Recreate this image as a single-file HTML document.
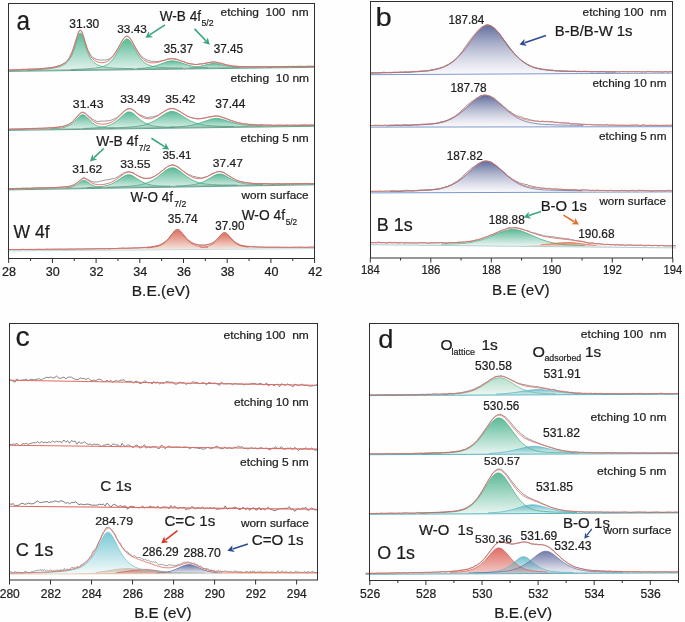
<!DOCTYPE html>
<html><head><meta charset="utf-8"><style>html,body{margin:0;padding:0;background:#fefefe;overflow:hidden}svg{display:block;will-change:transform}text{font-family:"Liberation Sans",sans-serif;stroke:#222;stroke-width:0.22px;paint-order:stroke}</style></head>
<body><svg width="685" height="622" viewBox="0 0 685 622" font-family="Liberation Sans, sans-serif">
<defs><linearGradient id="g0" x1="0" y1="0" x2="0" y2="1"><stop offset="0" stop-color="#3fae86" stop-opacity="0.85"/><stop offset="1" stop-color="#3fae86" stop-opacity="0.13"/></linearGradient><linearGradient id="g1" x1="0" y1="0" x2="0" y2="1"><stop offset="0" stop-color="#d4503c" stop-opacity="0.8"/><stop offset="1" stop-color="#f4e2d8" stop-opacity="0.85"/></linearGradient><linearGradient id="g2" x1="0" y1="0" x2="0" y2="1"><stop offset="0" stop-color="#46558c" stop-opacity="0.85"/><stop offset="1" stop-color="#f4f2f8" stop-opacity="0.5"/></linearGradient><linearGradient id="g3" x1="0" y1="0" x2="0" y2="1"><stop offset="0" stop-color="#3fae86" stop-opacity="0.85"/><stop offset="1" stop-color="#3fae86" stop-opacity="0.05"/></linearGradient><linearGradient id="g4" x1="0" y1="0" x2="0" y2="1"><stop offset="0" stop-color="#e0603a" stop-opacity="0.75"/><stop offset="1" stop-color="#e0603a" stop-opacity="0.2"/></linearGradient><linearGradient id="g5" x1="0" y1="0" x2="0" y2="1"><stop offset="0" stop-color="#d9544a" stop-opacity="0.85"/><stop offset="1" stop-color="#d9544a" stop-opacity="0.3"/></linearGradient><linearGradient id="g6" x1="0" y1="0" x2="0" y2="1"><stop offset="0" stop-color="#c8a488" stop-opacity="0.6"/><stop offset="1" stop-color="#c8a488" stop-opacity="0.25"/></linearGradient><linearGradient id="g7" x1="0" y1="0" x2="0" y2="1"><stop offset="0" stop-color="#4a5a92" stop-opacity="0.85"/><stop offset="1" stop-color="#4a5a92" stop-opacity="0.05"/></linearGradient><linearGradient id="g8" x1="0" y1="0" x2="0" y2="1"><stop offset="0" stop-color="#62c0ce" stop-opacity="0.85"/><stop offset="1" stop-color="#62c0ce" stop-opacity="0.06"/></linearGradient><linearGradient id="g9" x1="0" y1="0" x2="0" y2="1"><stop offset="0" stop-color="#5ab88e" stop-opacity="0.45"/><stop offset="1" stop-color="#5ab88e" stop-opacity="0.1"/></linearGradient><linearGradient id="g10" x1="0" y1="0" x2="0" y2="1"><stop offset="0" stop-color="#52b4c4" stop-opacity="0.8"/><stop offset="1" stop-color="#52b4c4" stop-opacity="0.1"/></linearGradient><linearGradient id="g11" x1="0" y1="0" x2="0" y2="1"><stop offset="0" stop-color="#3fae86" stop-opacity="0.85"/><stop offset="1" stop-color="#3fae86" stop-opacity="0.1"/></linearGradient><linearGradient id="g12" x1="0" y1="0" x2="0" y2="1"><stop offset="0" stop-color="#5a6498" stop-opacity="0.85"/><stop offset="1" stop-color="#5a6498" stop-opacity="0.05"/></linearGradient></defs>
<rect width="685" height="622" fill="#fefefe"/>
<path d="M8.7,70.7 L32.5,69.9 L40.9,69.5 L47,69 L52.4,68.3 L57,67.4 L60.1,66.6 L63.1,65.2 L65.4,63.8 L67.7,61.7 L69.3,59.8 L70.8,57.3 L72.3,54.1 L73.9,50.1 L77.7,37.5 L78.5,35.4 L79.2,33.9 L80,33.1 L80.8,33.2 L81.5,34.1 L82.3,35.8 L86.9,50.4 L88.4,54.3 L89.2,55.9 L90.7,58.6 L91.5,59.7 L93,61.5 L95.3,63.5 L97.6,64.9 L100.7,66.1 L104.5,67 L109.1,67.7 L115.3,68.2 L122.9,68.5 L132.9,68.7 L145.9,68.8 L187.3,68.5 L187.3,68.6 L8.7,71 Z" fill="url(#g0)" stroke="none"/>
<path d="M14.1,70.8 L55.5,70 L79.2,69.2 L87.7,68.8 L93.8,68.3 L98.4,67.6 L102.2,66.7 L105.3,65.6 L107.6,64.3 L109.9,62.5 L111.4,61 L113.7,58.1 L116,54.6 L121.4,44.8 L122.9,42.3 L124.5,40.3 L125.2,39.6 L126,39.1 L126.8,38.9 L127.5,39 L128.3,39.3 L129.1,39.9 L130.6,41.7 L132.1,44.2 L136,51.2 L138.3,55.1 L140.6,58.4 L142.1,60.2 L144.4,62.5 L146.7,64.1 L149,65.2 L152.1,66.2 L155.9,66.9 L160.5,67.4 L166.6,67.7 L175.1,68 L198.8,68.1 L240.2,67.7 L240.2,67.9 L14.1,70.9 Z" fill="url(#g0)" stroke="none"/>
<path d="M99.9,69.6 L131.4,68.9 L139,68.6 L145.2,68 L149.8,67.3 L153.6,66.4 L158.2,65 L167.4,61.6 L169.7,61.1 L172,60.8 L174.3,60.9 L177.4,61.5 L186.6,64.6 L191.2,65.9 L195,66.7 L199.6,67.3 L205.7,67.7 L213.4,67.8 L244.8,67.7 L244.8,67.8 L99.9,69.8 Z" fill="url(#g0)" stroke="none"/>
<path d="M166.6,68.7 L183.5,68.3 L188.9,68 L192.7,67.6 L196.5,67.1 L199.6,66.5 L209.6,63.9 L211.9,63.6 L213.4,63.5 L214.9,63.5 L217.2,63.7 L228,66.2 L231,66.7 L234.9,67.1 L238.7,67.4 L244.1,67.5 L260.9,67.5 L260.9,67.6 L166.6,68.9 Z" fill="url(#g0)" stroke="none"/>
<path d="M27.1,70.2 L42.4,69.4 L47.8,68.9 L52.4,68.3 L56.2,67.6 L59.3,66.8 L62.4,65.6 L64.7,64.3 L67,62.5 L68.5,60.8 L70,58.6 L71.6,55.8 L73.9,50.1 L77.7,37.5 L78.5,35.4 L79.2,33.9 L80,33.1 L80.8,33.2 L81.5,34.1 L82.3,35.8 L86.9,50.4 L87.7,52.4 L89.2,55.9 L90.7,58.6 L92.3,60.7 L93.8,62.3 L95.3,63.5 L97.6,64.9 L100.7,66.1 L103.8,66.9 L107.6,67.5 L112.2,68 L117.6,68.3 L133.7,68.7" fill="none" stroke="#3fa67c" stroke-width="0.7"/>
<path d="M70.8,69.6 L85.4,68.9 L95.3,68.1 L98.4,67.6 L101.5,67 L103.8,66.2 L106.1,65.2 L108.4,63.8 L109.9,62.5 L111.4,61 L113,59.1 L114.5,57 L116,54.6 L121.4,44.8 L122.9,42.3 L124.5,40.3 L125.2,39.6 L126,39.1 L126.8,38.9 L127.5,39 L128.3,39.3 L129.1,39.9 L130.6,41.7 L132.1,44.2 L137.5,53.8 L139.8,57.4 L141.3,59.4 L142.9,61.1 L144.4,62.5 L145.9,63.6 L147.5,64.5 L149.8,65.5 L152.1,66.2 L155.1,66.8 L158.2,67.2 L168.2,67.8 L182.7,68.1" fill="none" stroke="#3fa67c" stroke-width="0.7"/>
<path d="M136.7,68.7 L145.2,68 L151.3,67 L156.7,65.5 L167.4,61.6 L169.7,61.1 L172,60.8 L174.3,60.9 L177.4,61.5 L187.3,64.9 L190.4,65.7 L193.5,66.4 L199.6,67.3 L208,67.7" fill="none" stroke="#3fa67c" stroke-width="0.7"/>
<path d="M188.9,68 L193.5,67.6 L197.3,67 L201.1,66.1 L209.6,63.9 L211.9,63.6 L213.4,63.5 L215.7,63.5 L218,63.9 L226.4,65.9 L230.3,66.6 L234.1,67 L238.7,67.4" fill="none" stroke="#3fa67c" stroke-width="0.7"/>
<path d="M8.7,71.4 L314.6,67.3" fill="none" stroke="#4aa582" stroke-width="0.9"/>
<path d="M8.7,70.6 L314.6,66.5" fill="none" stroke="#7a7a7a" stroke-width="0.5"/>
<path d="M8.7,70 L11.8,69.8 L14.1,70 L15.6,69.7 L17.1,69.9 L18.7,69.6 L20.2,69.7 L23.3,69.2 L27.1,69.4 L28.6,69 L30.2,69.2 L32.5,69 L37.1,69 L40.9,68.5 L42.4,68.6 L43.2,68.4 L45.5,68.3 L46.3,68.4 L47.8,67.9 L53.2,67.4 L57.8,66 L59.3,65.8 L62.4,64.2 L65.4,62.5 L66.2,61.7 L69.3,57.8 L72.3,51 L78.5,32.1 L79.2,30.6 L80,30 L80.8,30.1 L81.5,31 L82.3,32.6 L83.8,37.1 L86.9,47.4 L87.7,49.6 L90,54 L90.7,55.2 L93,57.7 L96.1,59.2 L99.2,60 L101.5,60.1 L103,59.9 L104.5,60.1 L107.6,59.6 L109.1,59 L112.2,56.8 L116,51.6 L119.9,44.7 L123.7,38.2 L125.2,36.6 L126,36.2 L127.5,36 L128.3,36.3 L129.1,37 L131.4,40 L137.5,51 L140.6,55.2 L143.6,58.2 L144.4,58.7 L148.2,60.4 L151.3,61.3 L154.4,61.3 L155.9,61.7 L159,61.4 L162,60.6 L165.1,60.2 L166.6,59.3 L167.4,59 L170.5,58.7 L171.2,58.4 L172,58.3 L173.5,58.8 L176.6,59.1 L178.1,59.6 L180.4,60.7 L183.5,61.5 L188.1,63.5 L190.4,63.9 L191.9,63.9 L193.5,64.3 L196.5,64.6 L200.4,63.6 L201.9,64.1 L203.4,63.5 L205,63.4 L211.1,62.1 L214.2,61.9 L216.5,62.2 L218,62.8 L221.1,63.1 L222.6,63.8 L224.1,64.1 L226.4,64.9 L228.7,65.4 L230.3,65.4 L232.6,66.2 L237.2,66.3 L238.7,66.7 L241,66.5 L242.5,66.8 L245.6,66.5 L247.1,66.8 L251,66.5 L255.6,67 L257.1,66.7 L259.4,66.7 L260.9,67 L262.5,66.6 L264.8,66.5 L268.6,67 L270.9,67 L272.4,66.5 L273.2,66.5 L274.7,66.9 L277,66.5 L278.6,66.6 L283.9,66.6 L285.5,66.9 L289.3,66.2 L291.6,66.7 L293.1,66.3 L293.9,66.3 L296.2,66.8 L297.7,66.3 L298.5,66.3 L302.3,66.3 L303.9,66.7 L309.2,66.1 L312.3,66.4 L314.6,66.1" fill="none" stroke="#555" stroke-width="0.6" stroke-linejoin="round"/>
<path d="M8.7,70 L32.5,69.2 L40.9,68.7 L47,68.1 L52.4,67.4 L57,66.4 L60.1,65.5 L63.1,64.1 L65.4,62.6 L67.7,60.4 L69.3,58.4 L70.8,55.8 L72.3,52.4 L73.9,48.2 L77.7,35.2 L78.5,33 L79.2,31.4 L80,30.6 L80.8,30.6 L81.5,31.6 L82.3,33.2 L86.9,48 L88.4,52 L89.2,53.6 L90.7,56.3 L92.3,58.3 L93,59.1 L94.6,60.4 L96.9,61.7 L98.4,62.2 L99.9,62.5 L101.5,62.7 L103,62.6 L104.5,62.4 L106.1,61.9 L107.6,61.2 L109.1,60.3 L111.4,58.3 L113.7,55.5 L116,52.1 L121.4,42.3 L122.9,39.7 L124.5,37.7 L125.2,37 L126,36.5 L126.8,36.3 L127.5,36.4 L128.3,36.8 L129.1,37.4 L130.6,39.3 L132.1,41.8 L136,49 L138.3,52.9 L140.6,56.3 L142.1,58.1 L143.6,59.6 L145.9,61.2 L148.2,62.2 L150.5,62.8 L153.6,62.9 L156.7,62.5 L159.7,61.8 L167.4,59.4 L169.7,59 L172,58.8 L174.3,59 L176.6,59.4 L178.9,60.2 L185.8,62.6 L188.9,63.5 L191.9,64.1 L195,64.4 L197.3,64.5 L200.4,64.2 L203.4,63.7 L209.6,62.4 L211.9,62.1 L213.4,62.1 L215.7,62.2 L218,62.6 L225.7,64.6 L230.3,65.6 L234.9,66.2 L240.2,66.5 L248.7,66.7 L262.5,66.7 L314.6,66.3" fill="none" stroke="#e26a63" stroke-width="0.9"/>
<path d="M17.1,129.7 L37.8,129.3 L50.9,128.8 L58.5,128.3 L61.6,127.9 L63.9,127.5 L66.2,126.8 L67.7,126.2 L69.3,125.5 L70.8,124.5 L73.9,122 L79.2,116.5 L80.8,115.3 L81.5,115 L82.3,114.8 L83.1,114.8 L83.8,115.1 L85.4,116 L86.9,117.3 L91.5,122 L93,123.3 L94.6,124.4 L96.1,125.3 L97.6,125.9 L99.2,126.5 L101.5,127 L103.8,127.4 L106.8,127.7 L115.3,128 L128.3,128.1 L148.2,128 L148.2,128.1 L17.1,129.9 Z" fill="url(#g0)" stroke="none"/>
<path d="M36.3,129.5 L66.2,128.9 L84.6,128.4 L96.1,127.7 L100.7,127.3 L103.8,126.8 L106.1,126.3 L108.4,125.7 L110.7,124.8 L113,123.6 L115.3,122.1 L117.6,120.3 L123.7,114.7 L125.2,113.4 L126.8,112.5 L127.5,112.2 L129.1,111.9 L130.6,112.1 L131.4,112.4 L132.9,113.3 L134.4,114.5 L140.6,120 L142.9,121.7 L145.2,123.1 L147.5,124.2 L149.8,125.1 L152.1,125.7 L154.4,126.1 L157.4,126.5 L162,126.9 L173.5,127.2 L191.9,127.2 L221.8,127 L221.8,127.1 L36.3,129.6 Z" fill="url(#g0)" stroke="none"/>
<path d="M44,129.4 L85.4,128.7 L111.4,128 L127.5,127.3 L132.9,126.8 L137.5,126.3 L141.3,125.6 L144.4,124.9 L147.5,124 L150.5,122.8 L152.8,121.7 L155.9,119.9 L164.3,114.3 L166.6,113 L168.2,112.2 L169.7,111.7 L172,111.4 L174.3,111.7 L175.8,112.2 L177.4,112.9 L179.7,114.2 L188.1,119.6 L191.2,121.2 L193.5,122.3 L196.5,123.4 L199.6,124.2 L202.7,124.9 L206.5,125.4 L211.1,125.8 L216.5,126.1 L232.6,126.4 L258.6,126.3 L299.3,126 L299.3,126.1 L44,129.5 Z" fill="url(#g0)" stroke="none"/>
<path d="M119.9,128.4 L164.3,127.4 L175.8,127 L183.5,126.4 L188.9,125.7 L194.2,124.6 L199.6,123.1 L208,120.2 L211.1,119.2 L214.2,118.6 L216.5,118.4 L218.8,118.6 L221.8,119.2 L232.6,122.6 L237.9,124 L243.3,124.9 L248.7,125.5 L256.3,125.9 L267.8,126 L312.3,125.8 L312.3,125.9 L119.9,128.5 Z" fill="url(#g0)" stroke="none"/>
<path d="M50.1,128.9 L57,128.4 L61.6,127.9 L64.7,127.3 L67.7,126.2 L70,125 L72.3,123.3 L74.6,121.2 L78.5,117.2 L80,115.8 L81.5,115 L82.3,114.8 L83.1,114.8 L83.8,115.1 L85.4,116 L86.9,117.3 L90,120.5 L92.3,122.7 L94.6,124.4 L96.1,125.3 L97.6,125.9 L100.7,126.9 L103.8,127.4 L108.4,127.8 L114.5,128" fill="none" stroke="#3fa67c" stroke-width="0.7"/>
<path d="M83.8,128.4 L93,128 L99.9,127.4 L105.3,126.5 L109.1,125.4 L111.4,124.4 L113,123.6 L116,121.6 L119.1,119 L123.7,114.7 L126,112.9 L127.5,112.2 L129.1,111.9 L130.6,112.1 L131.4,112.4 L132.9,113.3 L135.2,115.2 L139.8,119.3 L142.1,121.2 L145.2,123.1 L146.7,123.9 L149,124.8 L152.8,125.9 L158.2,126.6 L165.1,127 L174.3,127.2" fill="none" stroke="#3fa67c" stroke-width="0.7"/>
<path d="M109.1,128.1 L122.9,127.5 L132.1,126.9 L139,126.1 L144.4,124.9 L149,123.4 L153.6,121.3 L157.4,119 L164.3,114.3 L167.4,112.6 L169.7,111.7 L172,111.4 L174.3,111.7 L176.6,112.5 L178.9,113.7 L186.6,118.7 L190.4,120.8 L195,122.8 L199.6,124.2 L205,125.2 L211.9,125.9 L221.1,126.2 L234.1,126.4" fill="none" stroke="#3fa67c" stroke-width="0.7"/>
<path d="M169.7,127.2 L182,126.5 L186.6,126 L191.2,125.3 L195,124.4 L198.8,123.4 L211.1,119.2 L214.2,118.6 L216.5,118.4 L218.8,118.6 L221.8,119.2 L234.1,123 L237.9,124 L241.8,124.7 L246.4,125.3 L251,125.6 L263.2,126" fill="none" stroke="#3fa67c" stroke-width="0.7"/>
<path d="M8.7,130.4 L314.6,126.3" fill="none" stroke="#4aa582" stroke-width="0.9"/>
<path d="M8.7,129.6 L314.6,125.5" fill="none" stroke="#7a7a7a" stroke-width="0.5"/>
<path d="M8.7,129.2 L11,129.2 L12.5,128.9 L14.1,129.1 L15.6,128.9 L17.1,129.2 L19.4,128.8 L21,129.1 L21.7,129.1 L24.8,128.6 L27.9,128.8 L29.4,128.5 L34.8,128.3 L37.1,128.4 L39.4,128.2 L42.4,128.3 L45.5,128 L47.8,128 L49.3,127.7 L51.6,127.8 L56.2,127.1 L57.8,127.3 L59.3,126.8 L61.6,126.6 L63.9,126.2 L65.4,125.7 L67,124.8 L68.5,124.5 L72.3,121.8 L73.1,121.1 L75.4,118.2 L77.7,115.9 L79.2,114 L81.5,112.3 L82.3,112.1 L83.8,112.4 L85.4,113.1 L86.1,113.6 L88.4,116.1 L90.7,117.7 L92.3,119.2 L96.9,121.4 L97.6,121.6 L99.2,121.2 L104.5,121.1 L109.9,120.6 L113.7,119.2 L116.8,117.6 L125.2,110.2 L127.5,108.7 L128.3,108.5 L129.8,108.5 L131.4,108.8 L135.2,111.2 L136.7,112.8 L139.8,114.8 L145.2,117 L147.5,117.5 L148.2,117.5 L150.5,116.9 L152.8,116.9 L156.7,115.7 L158.2,115.1 L162,112.5 L163.6,111.8 L165.1,110.6 L168.2,109 L169.7,108.9 L171.2,108.5 L173.5,108.4 L180.4,111.8 L182.7,113.6 L184.3,114.2 L185.8,115.3 L187.3,116.1 L188.9,116.6 L190.4,117.5 L191.9,117.6 L193.5,118.2 L195,118.3 L196.5,118.8 L200.4,118.7 L201.9,118.3 L204.2,118.1 L209.6,116.8 L211.1,117 L212.6,116.4 L214.2,116.3 L215.7,115.9 L217.2,116.1 L218.8,116 L223.4,117.7 L226.4,118.6 L228,119.4 L229.5,119.8 L231,120.5 L233.3,121 L234.9,122.1 L236.4,122.3 L237.9,122.9 L239.5,123 L241,123.4 L242.5,123.6 L244.1,124.2 L246.4,123.9 L249.4,124.5 L251,124.3 L252.5,124.6 L255.6,124.6 L257.1,125.1 L258.6,125.3 L260.2,124.7 L267.1,125.1 L270.9,124.9 L272.4,125.5 L273.2,125.6 L275.5,125.3 L281.6,125.1 L283.2,125.5 L287,125.1 L288.5,125.3 L290.8,125.4 L292.4,125.1 L293.9,125.2 L295.4,125 L297.7,125.4 L299.3,125.1 L302.3,125.1 L303.9,124.8 L308.5,125.3 L310,124.9 L313.1,125 L314.6,124.8" fill="none" stroke="#555" stroke-width="0.6" stroke-linejoin="round"/>
<path d="M8.7,129.2 L31.7,128.6 L47,128.1 L57,127.4 L60.1,127 L63.1,126.5 L65.4,125.9 L67,125.3 L69.3,124.1 L70.8,123.1 L72.3,121.8 L73.9,120.4 L79.2,114.4 L80.8,113.2 L81.5,112.8 L82.3,112.6 L83.1,112.6 L83.8,112.8 L85.4,113.7 L86.9,115.1 L90.7,119.1 L92.3,120.4 L93.8,121.6 L96.1,122.9 L98.4,123.7 L100.7,124.1 L103,124.2 L106.1,123.9 L108.4,123.3 L109.9,122.8 L112.2,121.8 L113.7,120.9 L115.3,119.8 L117.6,117.9 L123.7,111.9 L125.2,110.6 L126.8,109.5 L127.5,109.2 L129.1,108.8 L130.6,108.9 L131.4,109.2 L132.9,110 L134.4,111.1 L139,115 L142.1,117 L143.6,117.8 L145.2,118.3 L147.5,118.7 L149,118.8 L150.5,118.6 L152.1,118.3 L154.4,117.5 L158.2,115.5 L164.3,111.5 L166.6,110.2 L168.2,109.4 L169.7,108.9 L172,108.6 L174.3,108.9 L176.6,109.7 L178.9,111 L185.8,115.2 L189.6,117.1 L192.7,118.1 L195.8,118.6 L198.1,118.8 L201.1,118.6 L204.2,118.1 L211.9,116.4 L214.2,116.1 L216.5,116.1 L218.8,116.3 L221.8,117.1 L231.8,120.8 L237.2,122.4 L243.3,123.7 L249.4,124.4 L257.9,124.9 L270.1,125.2 L288.5,125.2 L314.6,125.1" fill="none" stroke="#e26a63" stroke-width="0.9"/>
<path d="M45.5,188.7 L63.1,188.1 L67.7,187.7 L70.8,187.2 L73.1,186.5 L75.4,185.4 L77.7,183.9 L81.5,181 L83.1,180.4 L83.8,180.2 L84.6,180.3 L86.1,180.9 L90.7,184.2 L93,185.5 L94.6,186.1 L96.9,186.8 L99.9,187.2 L104.5,187.4 L122.2,187.5 L122.2,187.6 L45.5,188.9 Z" fill="url(#g0)" stroke="none"/>
<path d="M43.2,188.8 L68.5,188.2 L85.4,187.7 L96.1,187.1 L103,186.3 L107.6,185.3 L109.9,184.6 L112.2,183.6 L116,181.5 L122.2,177.3 L124.5,175.9 L126.8,174.9 L128.3,174.7 L129.8,174.8 L132.1,175.6 L134.4,176.9 L140.6,181 L144.4,183 L146.7,183.8 L149,184.5 L153.6,185.4 L160.5,186 L171.2,186.2 L188.1,186.2 L214.2,185.9 L214.2,186.1 L43.2,188.9 Z" fill="url(#g0)" stroke="none"/>
<path d="M39.4,188.8 L83.8,187.9 L110.7,187.1 L127.5,186.3 L133.7,185.8 L138.3,185.2 L142.1,184.4 L145.2,183.6 L148.2,182.5 L151.3,181 L153.6,179.7 L156.7,177.7 L164.3,171.5 L166.6,169.8 L168.2,168.9 L169.7,168.2 L172,167.8 L172.8,167.8 L174.3,168.1 L175.8,168.6 L177.4,169.5 L179.7,171 L185,175.3 L188.1,177.5 L191.2,179.4 L193.5,180.6 L196.5,181.8 L199.6,182.8 L202.7,183.5 L206.5,184.1 L211.1,184.5 L217.2,184.8 L234.1,185.1 L260.9,185 L304.6,184.4 L304.6,184.6 L39.4,189 Z" fill="url(#g0)" stroke="none"/>
<path d="M129.1,187.3 L155.9,186.8 L173.5,186.2 L184.3,185.7 L191.9,184.9 L197.3,183.8 L201.9,182.4 L206.5,180.2 L214.9,175.3 L217.2,174.3 L219.5,174 L221.8,174.3 L224.1,175.1 L232.6,179.7 L237.2,181.8 L241.8,183.1 L247.1,184 L254.8,184.5 L265.5,184.7 L283.2,184.6 L310,184.3 L310,184.5 L129.1,187.5 Z" fill="url(#g0)" stroke="none"/>
<path d="M65.4,188 L70,187.4 L72.3,186.8 L73.9,186.2 L75.4,185.4 L76.9,184.5 L81.5,181 L83.1,180.4 L83.8,180.2 L84.6,180.3 L86.1,180.9 L90.7,184.2 L92.3,185.1 L93.8,185.8 L95.3,186.4 L97.6,186.9 L102.2,187.3" fill="none" stroke="#3fa67c" stroke-width="0.7"/>
<path d="M86.9,187.6 L94.6,187.2 L99.9,186.7 L104.5,186 L108.4,185.1 L111.4,184 L114.5,182.4 L116.8,181.1 L122.2,177.3 L124.5,175.9 L126.8,174.9 L128.3,174.7 L129.8,174.8 L132.1,175.6 L134.4,176.9 L139,180 L142.1,181.8 L145.2,183.3 L148.2,184.3 L152.1,185.2 L156.7,185.7 L162,186 L170.5,186.2" fill="none" stroke="#3fa67c" stroke-width="0.7"/>
<path d="M106.8,187.3 L121.4,186.7 L131.4,186 L138.3,185.2 L141.3,184.6 L144.4,183.8 L149,182.1 L152.8,180.2 L155.1,178.7 L157.4,177.1 L164.3,171.5 L166.6,169.8 L168.2,168.9 L169.7,168.2 L172,167.8 L172.8,167.8 L174.3,168.1 L176.6,169 L179.7,171 L186.6,176.4 L190.4,178.9 L192.7,180.2 L195,181.3 L197.3,182.1 L199.6,182.8 L202.7,183.5 L205.7,184 L212.6,184.6 L222.6,185 L237.2,185.1" fill="none" stroke="#3fa67c" stroke-width="0.7"/>
<path d="M175.8,186.1 L183.5,185.7 L189.6,185.2 L194.2,184.5 L198.1,183.6 L201.9,182.4 L205,181 L208,179.3 L213.4,176.1 L215.7,174.9 L218,174.2 L219.5,174 L221.1,174.1 L223.4,174.8 L225.7,175.8 L231,178.9 L234.1,180.5 L237.2,181.8 L241,182.9 L244.8,183.7 L249.4,184.2 L255.6,184.5 L263.2,184.7" fill="none" stroke="#3fa67c" stroke-width="0.7"/>
<path d="M8.7,189.9 L314.6,184.8" fill="none" stroke="#4aa582" stroke-width="0.9"/>
<path d="M8.7,189.1 L314.6,184" fill="none" stroke="#7a7a7a" stroke-width="0.5"/>
<path d="M8.7,188.8 L13.3,188.8 L16.4,188.4 L19.4,188.4 L20.2,188.6 L22.5,188.1 L24,188.3 L27.9,188.2 L30.2,188.6 L31.7,188 L35.5,188 L38.6,187.6 L40.9,187.9 L42.4,187.6 L44,188 L48.6,187.5 L50.9,187.8 L53.9,187.5 L55.5,187.8 L57,187.3 L59.3,187.4 L60.8,186.9 L63.9,187.1 L66.2,186.7 L67.7,186.8 L69.3,186.3 L70.8,186 L73.9,184.8 L76.9,182.8 L81.5,178.9 L83.1,178 L83.8,177.8 L84.6,177.8 L86.1,178.8 L87.7,179.3 L90.7,181 L93,181.9 L93.8,182 L96.9,182 L98.4,181.6 L99.9,181 L101.5,181.1 L105.3,180 L106.8,179.9 L109.9,179.3 L110.7,179.3 L112.2,178.7 L113.7,178.7 L114.5,178.4 L118.3,176.5 L123.7,173.2 L126,172.3 L129.1,171.7 L129.8,171.8 L132.1,172.7 L132.9,172.6 L133.7,173 L135.2,174.3 L138.3,176 L142.9,177.9 L145.2,178.3 L147.5,178.2 L149,178.4 L151.3,177.8 L154.4,176.4 L159,173.3 L161.3,171.4 L165.9,168 L167.4,166.6 L168.2,166.2 L172,164.8 L173.5,164.9 L175.8,165.8 L178.9,167.4 L180.4,168.6 L182,170.2 L188.1,174.4 L190.4,175.2 L193.5,176.5 L195,176.6 L196.5,177.2 L199.6,177.5 L201.1,178.1 L202.7,177.5 L205,177.2 L206.5,176.5 L207.3,176.5 L211.9,173.8 L214.9,172.9 L216.5,172 L219.5,171.4 L222.6,171.9 L223.4,172.2 L227.2,174.8 L228.7,175.5 L231,177.1 L235.6,179.7 L236.4,180.3 L237.2,180.6 L237.9,180.6 L239.5,181.5 L242.5,181.9 L244.8,182.5 L248.7,182.9 L250.2,183.3 L257.1,183.7 L259.4,183.5 L262.5,183.8 L264,183.4 L264.8,183.4 L267.1,183.9 L268.6,183.6 L270.1,184 L271.7,183.9 L273.2,184.3 L274.7,183.9 L277.8,183.7 L280.1,183.8 L281.6,184.1 L283.2,183.8 L285.5,183.9 L287.8,183.5 L289.3,183.8 L290.8,183.6 L293.1,183.8 L295.4,183.4 L297,183.7 L297.7,183.6 L302.3,183.7 L303.9,183.4 L307.7,183.8 L309.2,183.7 L311.5,183.9 L313.1,183.7 L314.6,183.7" fill="none" stroke="#555" stroke-width="0.6" stroke-linejoin="round"/>
<path d="M8.7,188.7 L50.9,187.7 L61.6,187.2 L67.7,186.6 L70.8,186 L73.9,184.9 L75.4,184 L76.9,183 L81.5,179.3 L83.1,178.5 L83.8,178.4 L84.6,178.4 L86.1,179 L91.5,182.7 L93,183.5 L94.6,184.1 L96.1,184.4 L98.4,184.7 L100.7,184.7 L103.8,184.4 L106.1,183.9 L108.4,183.3 L110.7,182.5 L113,181.4 L116.8,179.1 L122.9,174.4 L124.5,173.4 L126.8,172.3 L128.3,172 L129.8,172 L132.1,172.7 L133.7,173.4 L139,176.5 L142.1,177.8 L143.6,178.2 L145.2,178.5 L146.7,178.5 L148.2,178.4 L149.8,178.2 L151.3,177.7 L154.4,176.4 L158.2,173.9 L165.1,168.4 L167.4,166.8 L169.7,165.6 L171.2,165.3 L172,165.2 L172.8,165.2 L174.3,165.5 L175.8,166.1 L177.4,167 L179.7,168.6 L186.6,173.9 L190.4,176.3 L192.7,177.4 L194.2,177.9 L197.3,178.5 L200.4,178.6 L201.9,178.4 L204.2,177.8 L208,176.2 L213.4,173.4 L215.7,172.3 L218,171.7 L219.5,171.6 L221.8,172 L224.1,172.9 L232.6,178.1 L234.9,179.3 L237.2,180.3 L239.5,181.2 L241.8,181.8 L247.1,182.8 L254.8,183.5 L267.1,183.8 L286.2,183.8 L314.6,183.6" fill="none" stroke="#e26a63" stroke-width="0.9"/>
<path d="M87.7,249.4 L118.3,248.9 L136.7,248.4 L148.2,247.8 L152.8,247.2 L155.9,246.7 L158.2,246.1 L160.5,245.2 L162.8,244.1 L164.3,243.1 L166.6,241.1 L168.2,239.5 L174.3,232 L175.8,230.7 L176.6,230.4 L177.4,230.2 L178.1,230.3 L178.9,230.7 L180.4,231.9 L186.6,239.4 L188.1,240.9 L190.4,242.8 L191.9,243.8 L194.2,245 L196.5,245.8 L198.8,246.4 L201.9,246.9 L206.5,247.3 L218,247.8 L236.4,248.1 L267.1,248 L267.1,248.2 L87.7,249.5 Z" fill="url(#g1)" stroke="none"/>
<path d="M153.6,248.9 L175.8,248.5 L190.4,248.1 L199.6,247.6 L202.7,247.2 L205.7,246.7 L208,246.2 L209.6,245.6 L211.9,244.6 L213.4,243.6 L214.9,242.4 L216.5,241 L221.8,234.9 L223.4,233.8 L224.1,233.5 L224.9,233.5 L225.7,233.7 L227.2,234.8 L232.6,240.7 L234.1,242.1 L235.6,243.3 L237.2,244.3 L239.5,245.4 L241,245.9 L243.3,246.4 L246.4,246.9 L249.4,247.2 L258.6,247.6 L273.2,247.8 L295.4,247.8 L295.4,247.9 L153.6,249 Z" fill="url(#g1)" stroke="none"/>
<path d="M146.7,247.9 L152.1,247.3 L156.7,246.5 L159.7,245.6 L162.8,244.1 L165.1,242.5 L167.4,240.3 L169.7,237.7 L172.8,233.8 L174.3,232 L175.8,230.7 L176.6,230.4 L177.4,230.2 L178.1,230.3 L178.9,230.7 L180.4,231.9 L182,233.7 L185.8,238.5 L187.3,240.2 L189.6,242.3 L191.9,243.8 L195,245.3 L198.1,246.2 L202.7,247 L208,247.4" fill="none" stroke="#d65a50" stroke-width="0.7"/>
<path d="M200.4,247.5 L204.2,247 L207.3,246.4 L209.6,245.6 L211.9,244.6 L214.2,243 L215.7,241.7 L217.2,240.1 L221.1,235.7 L222.6,234.3 L223.4,233.8 L224.1,233.5 L224.9,233.5 L225.7,233.7 L227.2,234.8 L231.8,239.9 L233.3,241.5 L234.9,242.8 L237.2,244.3 L239.5,245.4 L241.8,246.1 L244.8,246.7 L248.7,247.1" fill="none" stroke="#d65a50" stroke-width="0.7"/>
<path d="M8.7,250.9 L314.6,248.6" fill="none" stroke="#a8c8c8" stroke-width="0.7"/>
<path d="M8.7,249.5 L10.2,249.6 L11.8,249.4 L14.1,249.7 L17.1,249.5 L20.2,249.8 L21.7,249.3 L23.3,249.3 L24.8,249.6 L26.3,249.4 L27.9,249.6 L29.4,249.4 L34,249.7 L36.3,249.3 L44.7,249.5 L46.3,249.1 L50.1,249.4 L50.9,249.2 L52.4,249.4 L53.9,249.1 L55.5,249.3 L58.5,249.1 L61.6,249.2 L63.1,249.4 L66.2,249.2 L68.5,249.3 L70,249 L75.4,249.3 L77.7,248.8 L79.2,249.1 L82.3,249.2 L84.6,248.9 L88.4,249 L90,248.8 L92.3,249 L94.6,248.8 L96.9,248.8 L98.4,248.5 L100.7,248.9 L103,248.7 L104.5,249 L106.8,248.5 L108.4,249 L111.4,248.6 L116,248.6 L118.3,248.3 L123.7,248 L126,248.4 L128.3,248.1 L131.4,248.3 L132.9,247.9 L138.3,247.9 L141.3,247.6 L142.9,247.6 L144.4,247.3 L145.9,247.6 L147.5,247.3 L150.5,247.2 L155.1,246.1 L155.9,246.3 L156.7,246.2 L160.5,244.9 L165.1,241.7 L168.2,239.1 L174.3,231.1 L175.1,230.4 L177.4,229.5 L178.1,229.5 L179.7,230.2 L185.8,237.7 L187.3,239.3 L188.9,240.6 L191.9,242.6 L194.2,243.8 L196.5,244.3 L198.8,245.2 L202.7,245.2 L204.2,244.9 L205,245.3 L205.7,245.2 L211.9,243.3 L214.2,242 L218,238.2 L221.8,233.8 L223.4,232.8 L224.9,232.7 L225.7,232.7 L226.4,233.2 L228,234.7 L230.3,237.6 L234.1,241.2 L236.4,243.1 L240.2,245.2 L244.8,246.3 L245.6,246.2 L247.1,246.6 L252.5,246.6 L256.3,246.9 L257.9,247.3 L259.4,247 L260.9,247.2 L262.5,247 L264,247.4 L264.8,247.2 L268.6,247.2 L270.1,247.4 L271.7,247.2 L277,247.3 L278.6,247 L281.6,247.4 L283.2,247.2 L285.5,247.5 L287,247.2 L288.5,247.5 L291.6,247.3 L293.1,247.5 L294.7,247.2 L297,247.4 L300,247.1 L306.2,247.5 L312.3,247 L314.6,247.2" fill="none" stroke="#555" stroke-width="0.6" stroke-linejoin="round"/>
<path d="M8.7,249.6 L79.2,249 L116,248.5 L137.5,247.9 L145.2,247.5 L150.5,247 L155.1,246.3 L158.2,245.5 L161.3,244.3 L163.6,243 L165.9,241.2 L168.2,238.9 L174.3,231.3 L175.8,230 L176.6,229.6 L177.4,229.5 L178.1,229.6 L178.9,229.9 L180.4,231.1 L186.6,238.5 L188.1,240 L190.4,241.8 L191.9,242.8 L194.2,243.8 L196.5,244.5 L198.8,244.9 L202.7,245.1 L205.7,245 L208.8,244.4 L211.1,243.6 L213.4,242.3 L215.7,240.5 L218,238.2 L221.1,234.7 L222.6,233.3 L223.4,232.8 L224.1,232.6 L224.9,232.6 L225.7,232.8 L227.2,233.9 L232.6,239.9 L234.1,241.4 L235.6,242.6 L237.2,243.6 L239.5,244.7 L241.8,245.4 L244.8,246 L247.9,246.4 L252.5,246.8 L264.8,247.2 L283.9,247.3 L314.6,247.2" fill="none" stroke="#e26a63" stroke-width="0.9"/>
<rect x="8.5" y="3.5" width="306" height="255" fill="none" stroke="#303030" stroke-width="1"/>
<line x1="8.7" y1="258.5" x2="8.7" y2="263" stroke="#303030" stroke-width="1"/>
<line x1="30.55" y1="258.5" x2="30.55" y2="261" stroke="#303030" stroke-width="1"/>
<line x1="52.4" y1="258.5" x2="52.4" y2="263" stroke="#303030" stroke-width="1"/>
<line x1="74.25" y1="258.5" x2="74.25" y2="261" stroke="#303030" stroke-width="1"/>
<line x1="96.1" y1="258.5" x2="96.1" y2="263" stroke="#303030" stroke-width="1"/>
<line x1="117.95" y1="258.5" x2="117.95" y2="261" stroke="#303030" stroke-width="1"/>
<line x1="139.8" y1="258.5" x2="139.8" y2="263" stroke="#303030" stroke-width="1"/>
<line x1="161.65" y1="258.5" x2="161.65" y2="261" stroke="#303030" stroke-width="1"/>
<line x1="183.5" y1="258.5" x2="183.5" y2="263" stroke="#303030" stroke-width="1"/>
<line x1="205.35" y1="258.5" x2="205.35" y2="261" stroke="#303030" stroke-width="1"/>
<line x1="227.2" y1="258.5" x2="227.2" y2="263" stroke="#303030" stroke-width="1"/>
<line x1="249.05" y1="258.5" x2="249.05" y2="261" stroke="#303030" stroke-width="1"/>
<line x1="270.9" y1="258.5" x2="270.9" y2="263" stroke="#303030" stroke-width="1"/>
<line x1="292.75" y1="258.5" x2="292.75" y2="261" stroke="#303030" stroke-width="1"/>
<line x1="314.6" y1="258.5" x2="314.6" y2="263" stroke="#303030" stroke-width="1"/>
<path d="M370.3,73.2 L402.1,72.4 L413.5,72 L421.9,71.4 L428.7,70.8 L434,69.9 L438.5,68.9 L443.1,67.4 L446.9,65.6 L449.9,63.9 L453.7,61.1 L456.7,58.4 L459.8,55.3 L463.6,50.8 L467.3,45.9 L474.9,35.4 L477.2,32.5 L479.5,29.9 L481.7,27.8 L484,26.3 L486.3,25.4 L487.8,25.3 L489.3,25.5 L491.6,26.4 L493.9,28 L496.2,30.1 L499.9,34.6 L508.3,46 L512.1,50.9 L516.6,56.1 L520.4,59.7 L524.2,62.6 L528,64.9 L530.3,66.1 L532.5,67 L537.1,68.4 L543.2,69.7 L550,70.5 L558.3,71 L570.5,71.5 L587.1,71.8 L609.1,72 L672.8,72 L672.8,72.3 L370.3,73.9 Z" fill="url(#g2)" stroke="none"/>
<path d="M370.3,73.2 L402.1,72.4 L413.5,72 L421.9,71.4 L428.7,70.8 L434,69.9 L438.5,68.9 L443.1,67.4 L446.9,65.6 L449.9,63.9 L453.7,61.1 L456.7,58.4 L459.8,55.3 L463.6,50.8 L467.3,45.9 L474.9,35.4 L477.2,32.5 L479.5,29.9 L481.7,27.8 L484,26.3 L486.3,25.4 L487.8,25.3 L489.3,25.5 L491.6,26.4 L493.9,28 L496.2,30.1 L499.9,34.6 L508.3,46 L512.1,50.9 L515.9,55.3 L518.9,58.3 L521.9,61 L525.7,63.6 L529.5,65.7 L533.3,67.3 L537.9,68.6 L543.2,69.7 L549.2,70.4 L556,70.9 L565.9,71.3 L578.8,71.6 L615.9,72" fill="none" stroke="#55649a" stroke-width="0.7"/>
<path d="M370.3,74.7 L672.8,73.1" fill="none" stroke="#7a98cc" stroke-width="1.0"/>
<path d="M370.3,72.6 L371.8,72.8 L374.8,72.6 L376.4,72.9 L377.1,72.7 L378.6,72.8 L380.2,72.6 L380.9,72.8 L383.2,72.2 L387,72.5 L390,72.4 L391.5,72.8 L393.8,72.2 L396.1,72.4 L396.8,72.2 L398.4,72.4 L401.4,71.9 L402.9,72.4 L404.4,71.9 L408.2,72.3 L410.5,72 L412,71.5 L413.5,71.6 L415,71.3 L416.5,71.5 L419.6,71.2 L420.3,71 L422.6,71.1 L424.9,70.7 L426.4,70.8 L428.7,70.7 L430.2,70.2 L431.7,69.5 L433.2,69.5 L434.7,69.3 L436.3,68.8 L439.3,68.1 L440.8,67.4 L443.1,67.2 L445.4,65.7 L448.4,64.4 L449.9,63.3 L451.4,62.7 L455.2,59.6 L457.5,57.2 L462.8,50.8 L464.3,48.2 L465.8,46.5 L468.1,42.8 L474.2,34.8 L475.7,33.4 L477.2,31.2 L478.7,29.7 L480.2,28.7 L481,27.6 L481.7,26.9 L483.3,26.5 L485.5,25.1 L487.1,24.5 L487.8,24.6 L490.1,25.7 L491.6,26 L493.1,27.5 L494.6,28.2 L496.2,30.1 L497.7,31.5 L500.7,35.3 L503.7,40.2 L505.2,42.1 L506.8,44.7 L508.3,46.8 L510.6,49.7 L512.1,51.1 L513.6,53.1 L515.9,55 L517.4,56.8 L521.2,59.9 L521.9,60.8 L526.5,64 L530.3,65.8 L531,66 L532.5,67 L534.1,67.5 L534.8,67.9 L536.3,67.9 L539.4,68.9 L540.1,68.8 L542.4,69.2 L544.7,69.2 L546.9,69.8 L549.2,70.1 L551.5,69.9 L553.8,70.3 L556,71 L558.3,70.6 L559.8,71 L562.9,71.2 L565.9,71.1 L568.9,71.4 L571.2,71.2 L572.7,71.5 L574.2,70.9 L575,71 L576.5,71.7 L578.8,71.3 L581.1,71.7 L581.8,71.5 L586.4,71.1 L587.9,71.6 L588.6,71.4 L589.4,71.4 L590.2,71.7 L591.7,71.9 L595.5,71.5 L597.7,71.8 L602.3,71.5 L604.6,71.5 L606.1,72.1 L606.8,72.1 L607.6,71.9 L609.1,72.1 L610.6,71.7 L614.4,72 L615.9,71.7 L617.5,71.9 L619,71.8 L619.7,72 L622,71.4 L624.3,71.7 L626.6,71.5 L628.1,71.9 L628.8,71.9 L629.6,71.5 L631.9,71.7 L633.4,71.5 L635.7,71.8 L638.7,71.5 L641.7,72 L642.5,71.9 L643.2,71.6 L644,71.6 L644.7,72.1 L645.5,72.1 L647,71.4 L650.8,71.4 L652.3,71.7 L653.8,71.7 L654.6,71.9 L656.9,71.6 L658.4,72 L659.9,71.6 L662.9,72.2 L665.2,71.5 L666,71.5 L668.3,72.2 L669.8,71.3 L671.3,71.6 L672.8,71.4" fill="none" stroke="#555" stroke-width="0.6" stroke-linejoin="round"/>
<path d="M370.3,72.9 L402.1,72.1 L413.5,71.7 L421.9,71.1 L428.7,70.5 L434,69.6 L438.5,68.6 L443.1,67.1 L446.9,65.3 L449.9,63.6 L453.7,60.8 L456.7,58.1 L459.8,55 L463.6,50.5 L467.3,45.6 L474.9,35.1 L477.2,32.2 L479.5,29.6 L481.7,27.5 L484,26 L486.3,25.1 L487.8,25 L489.3,25.2 L491.6,26.1 L493.9,27.7 L496.2,29.8 L499.9,34.3 L508.3,45.7 L512.1,50.6 L516.6,55.8 L520.4,59.4 L524.2,62.3 L528,64.6 L530.3,65.8 L532.5,66.7 L537.1,68.1 L543.2,69.4 L550,70.2 L558.3,70.7 L570.5,71.2 L587.1,71.5 L609.1,71.7 L672.8,71.7" fill="none" stroke="#e07068" stroke-width="0.75"/>
<path d="M370.3,125.9 L402.1,125.4 L421.9,124.8 L427.9,124.4 L433.2,123.9 L437.8,123.2 L442.3,122.2 L446.1,121.1 L449.1,119.9 L452.2,118.4 L455.2,116.7 L458.2,114.6 L462,111.7 L473.4,101.5 L477.2,98.6 L479.5,97.2 L481.7,96.2 L484,95.6 L485.5,95.6 L487.1,95.7 L489.3,96.4 L491.6,97.5 L493.9,99 L497.7,102 L505.2,108.9 L509,112.1 L512.8,115 L516.6,117.4 L520.4,119.4 L525,121.2 L529.5,122.4 L534.1,123.3 L540.1,124.1 L546.9,124.6 L556,124.9 L568.2,125.2 L607.6,125.6 L672.8,125.7 L672.8,125.9 L370.3,126.3 Z" fill="url(#g2)" stroke="none"/>
<path d="M387,125.7 L411.2,125.2 L426.4,124.6 L431.7,124.1 L436.3,123.5 L440.8,122.6 L444.6,121.6 L448.4,120.2 L451.4,118.8 L454.5,117.1 L457.5,115.2 L460.5,112.9 L463.6,110.4 L474.2,100.9 L478,98.1 L480.2,96.8 L481.7,96.2 L484,95.6 L485.5,95.6 L487.1,95.7 L489.3,96.4 L491.6,97.5 L493.9,99 L497.7,102 L508.3,111.5 L512.1,114.4 L515.1,116.5 L517.4,117.8 L520.4,119.4 L523.4,120.6 L526.5,121.6 L530.3,122.6 L534.8,123.4 L539.4,124 L544.7,124.4 L559.1,125 L583.3,125.4" fill="none" stroke="#55649a" stroke-width="0.7"/>
<path d="M370.3,127.1 L672.8,126.7" fill="none" stroke="#7a98cc" stroke-width="1.0"/>
<path d="M370.3,125.5 L373.3,125.5 L375.6,125.1 L377.1,125.4 L377.9,125.2 L379.4,125.5 L381.7,125.4 L383.2,125.7 L384.7,125 L385.5,125.1 L386.2,125.6 L387,125.8 L390,125.2 L390.8,125.3 L392.3,125.1 L393.8,125.5 L394.6,125 L395.3,124.9 L396.1,125.1 L397.6,124.8 L398.4,125.1 L400.6,125.5 L402.1,125 L403.7,124.8 L405.9,124.9 L408.2,125.3 L412.8,125.1 L414.3,124.5 L415,124.5 L416.5,124.9 L417.3,124.9 L420.3,124.3 L422.6,124.1 L424.1,124.3 L425.6,123.9 L427.2,124.2 L429.4,124.1 L430.2,123.7 L431,123.6 L431.7,123.9 L432.5,123.9 L433.2,123.5 L435.5,123.5 L436.3,123.4 L437.8,122.8 L439.3,122.7 L440.8,121.7 L443.1,121.9 L444.6,121.1 L446.1,120.9 L447.6,120.2 L454.5,116.7 L456,115.2 L457.5,114.4 L459,113.2 L462,110 L465.1,107.5 L466.6,105.4 L468.1,104.3 L469.6,103.6 L471.1,101.9 L473.4,100.5 L476.4,98.1 L478,97.5 L480.2,95.8 L482.5,95.3 L483.3,95 L484,95 L486.3,95.3 L490.8,96.4 L492.4,97.3 L494.6,98.4 L499.2,102.8 L501.5,104.4 L503.7,106.6 L506,108.4 L508.3,110.9 L511.3,112.2 L512.8,113.6 L516.6,115.9 L518.1,116.1 L519.7,116.8 L521.9,117 L522.7,117.4 L524.2,118.5 L525,118.5 L527.2,118.8 L530.3,119.9 L531,119.9 L534.8,120.9 L536.3,121.1 L537.9,120.9 L539.4,121.8 L541.6,121.2 L543.2,121.2 L544.7,121.6 L546.9,121.3 L548.5,121.6 L549.2,121.5 L550.7,122 L552.3,121.5 L554.5,122.6 L556,122.1 L559.8,122.9 L560.6,122.8 L562.1,123 L565.9,122.9 L567.4,123.1 L568.9,122.9 L570.5,123.8 L571.2,124.1 L573.5,123.7 L575.8,123.6 L577.3,123.9 L578.8,123.9 L581.1,124.4 L584.9,124.3 L587.1,124.8 L588.6,124.4 L589.4,124.4 L593.2,124.9 L594.7,124.7 L595.5,125.1 L596.2,125.1 L597,124.9 L599.3,125 L600.8,124.8 L603.8,125.1 L604.6,125 L606.1,124.4 L609.1,125.3 L610.6,125.1 L613.7,124.9 L615.9,125.4 L618.2,125.2 L620.5,125.4 L622,125.1 L623.5,125.4 L625,125.3 L625.8,125.6 L626.6,125.6 L627.3,125.4 L628.8,125.7 L631.9,124.9 L634.1,125.4 L635.7,124.9 L636.4,124.9 L637.9,125.1 L639.4,125.8 L640.2,126 L643.2,124.6 L645.5,125.5 L649.3,125.6 L650.8,125 L653.1,125.8 L654.6,125.2 L659.9,125.5 L662.2,125.3 L664.5,125.4 L666.7,125.2 L669,125.4 L671.3,125 L672.8,125.2" fill="none" stroke="#555" stroke-width="0.6" stroke-linejoin="round"/>
<path d="M370.3,125.5 L402.1,125.1 L421.9,124.5 L427.9,124.1 L433.2,123.6 L437.8,122.9 L442.3,121.9 L446.1,120.7 L449.1,119.5 L452.2,118 L455.2,116.3 L458.2,114.2 L462,111.3 L473.4,101.1 L477.2,98.1 L479.5,96.7 L481.7,95.7 L484,95.2 L485.5,95.1 L487.1,95.2 L489.3,95.9 L490.8,96.5 L493.1,97.9 L496.9,100.8 L505.2,108.1 L508.3,110.7 L512.1,113.5 L515.1,115.4 L518.1,117 L521.9,118.6 L525.7,119.7 L529.5,120.5 L535.6,121.2 L552.3,122 L576.5,124 L591.7,124.7 L603.1,125 L618.2,125.2 L672.8,125.4" fill="none" stroke="#e07068" stroke-width="0.75"/>
<path d="M370.3,191.7 L402.9,191.2 L423.4,190.5 L430.2,190.1 L435.5,189.5 L440,188.8 L443.8,187.9 L447.6,186.7 L450.7,185.5 L453.7,184 L456.7,182.3 L459.8,180.2 L463.6,177.2 L474.2,167.6 L478,164.6 L480.2,163.2 L482.5,162.1 L484.8,161.5 L486.3,161.4 L487.8,161.6 L490.1,162.2 L492.4,163.3 L494.6,164.8 L498.4,167.8 L506,174.7 L509.8,177.9 L513.6,180.8 L517.4,183.1 L521.2,185.1 L525,186.6 L529.5,187.9 L534.1,188.8 L540.1,189.5 L546.9,190 L556,190.4 L568.2,190.6 L606.8,190.9 L672.8,190.9 L672.8,191.1 L370.3,192.1 Z" fill="url(#g2)" stroke="none"/>
<path d="M390,191.4 L414.3,190.9 L428.7,190.2 L434,189.7 L438.5,189.1 L442.3,188.3 L446.1,187.2 L449.9,185.9 L452.9,184.4 L456,182.7 L459,180.7 L463.6,177.2 L474.2,167.6 L476.4,165.8 L478.7,164.1 L481,162.8 L482.5,162.1 L484.8,161.5 L486.3,161.4 L487.8,161.6 L489.3,161.9 L490.8,162.5 L493.1,163.7 L496.9,166.5 L507.5,176 L510.6,178.5 L513.6,180.8 L516.6,182.7 L519.7,184.4 L522.7,185.7 L526.5,187.1 L530.3,188.1 L534.1,188.8 L538.6,189.4 L543.9,189.9 L558.3,190.4 L582.6,190.8" fill="none" stroke="#55649a" stroke-width="0.7"/>
<path d="M370.3,192.9 L672.8,191.9" fill="none" stroke="#7a98cc" stroke-width="1.0"/>
<path d="M370.3,191.2 L371.8,191.4 L374.8,191.2 L376.4,191.4 L378.6,191.1 L380.2,191.3 L381.7,191.1 L383.2,191.7 L386.2,190.8 L388.5,191.3 L390,190.9 L391.5,191 L393.8,190.8 L396.1,191.5 L397.6,191.2 L399.9,191.4 L401.4,191 L404.4,190.8 L405.9,190.3 L407.4,190.4 L408.2,190.6 L409.7,190.5 L412.8,191.1 L414.3,190.6 L416.5,190.7 L418.8,190.2 L421.9,189.9 L424.1,190.2 L425.6,189.7 L429.4,189.9 L434,189.5 L436.3,189.1 L437.8,189.1 L441.6,188.3 L443.1,187.5 L443.8,187.6 L446.1,186.6 L447.6,186.6 L449.1,185.5 L451.4,184.9 L452.9,183.4 L454.5,182.9 L456,181.6 L456.7,181.5 L457.5,181.1 L458.2,180.2 L460.5,178.8 L465.8,173.2 L466.6,172.5 L467.3,172.2 L471.1,168.4 L474.2,166.6 L478,163.7 L480.2,162.7 L481.7,161.6 L485.5,160.8 L490.1,161.6 L492.4,162.6 L493.9,164.1 L497.7,166.8 L499.9,169.1 L501.5,169.9 L503,171.4 L504.5,172.3 L506,174.4 L508.3,176.4 L510.6,177.7 L512.1,179 L513.6,179.7 L516.6,181.5 L518.1,181.9 L519.7,183 L520.4,183 L521.9,183.8 L523.4,183.8 L525.7,184.6 L527.2,184.6 L528.8,185.5 L530.3,185.6 L531.8,186.2 L533.3,186.4 L537.1,187.4 L539.4,187.5 L541.6,188.2 L543.9,187.9 L546.2,188.8 L547.7,188.4 L549.2,188.3 L550,188.5 L550.7,189 L552.3,188.9 L553.8,189.2 L555.3,189 L556,188.7 L556.8,188.7 L557.6,189.3 L558.3,189.5 L560.6,189.2 L562.9,189.6 L565.9,189.7 L567.4,189.4 L568.9,190 L570.5,189.7 L572,190 L573.5,189.6 L575,189.6 L577.3,190 L578.8,190.7 L581.8,189.8 L585.6,190 L587.1,189.8 L590.2,190.6 L592.4,190.3 L593.2,190.4 L594,190.8 L594.7,190.8 L595.5,190.4 L597.7,190.1 L599.3,190.5 L604.6,190.4 L607.6,190.8 L611.4,190.2 L612.9,190.6 L615.9,190.6 L616.7,190.7 L618.2,190.5 L619,190.8 L619.7,190.8 L622,190.1 L623.5,190.5 L625,190.3 L626.6,190.8 L628.1,190.6 L628.8,190.8 L629.6,190.8 L631.9,190.2 L634.9,190.7 L636.4,190.7 L638.7,190.1 L640.2,190.4 L643.2,190.3 L644,190.5 L646.3,190.6 L647.8,190.4 L649.3,190.9 L650.1,190.8 L651.6,191.1 L653.1,190.8 L653.8,190.9 L655.4,190.6 L659.2,190.8 L660.7,190.4 L662.2,190.9 L663.7,190.6 L665.2,191 L669,190.2 L670.5,190.7 L672,190.5 L672.8,190.7" fill="none" stroke="#555" stroke-width="0.6" stroke-linejoin="round"/>
<path d="M370.3,191.4 L402.9,190.9 L423.4,190.2 L430.2,189.8 L435.5,189.2 L440,188.5 L443.8,187.6 L447.6,186.4 L450.7,185.2 L453.7,183.7 L456.7,181.9 L459.8,179.9 L463.6,176.9 L474.2,167.3 L478,164.2 L480.2,162.8 L482.5,161.7 L484.8,161.1 L486.3,161 L487.8,161.2 L490.1,161.8 L491.6,162.5 L493.9,163.8 L497.7,166.7 L506,174.2 L509,176.7 L512.8,179.6 L516.6,182 L519.7,183.6 L523.4,185.2 L527.2,186.3 L531.8,187.3 L537.1,187.9 L543.2,188.4 L572,189.8 L586.4,190.2 L615.2,190.6 L672.8,190.6" fill="none" stroke="#e07068" stroke-width="0.75"/>
<path d="M370.3,243.8 L413.9,244.1 L440,244.2 L454.5,243.9 L464.5,243.2 L472.1,242.2 L476,241.4 L479.8,240.4 L483.6,239.2 L487.5,237.8 L499.7,232.6 L503.5,231.2 L508.1,230 L510.4,229.6 L512.7,229.5 L515,229.6 L517.3,229.9 L519.6,230.5 L521.9,231.2 L526.5,233 L538.8,238.4 L542.6,239.8 L546.4,241.1 L550.2,242.2 L554.1,243.1 L561.7,244.3 L567.1,244.8 L572.5,245.2 L587,245.7 L614.6,246.3 L659,246.9 L659,247 L370.3,244 Z" fill="url(#g3)" stroke="none"/>
<path d="M520.4,245.4 L530.3,245.3 L538.8,245 L545.7,244.4 L561,242.8 L564.8,242.5 L568.6,242.5 L572.5,242.6 L576.3,243 L590.8,244.8 L598.5,245.6 L606.9,246.1 L616.9,246.4 L616.9,246.6 L520.4,245.6 Z" fill="url(#g4)" stroke="none"/>
<path d="M441.5,244.1 L453,243.9 L461.4,243.5 L468.3,242.8 L474.4,241.7 L479.8,240.4 L485.2,238.7 L489.8,236.9 L499.7,232.6 L504.3,231 L506.6,230.3 L508.9,229.8 L512.7,229.5 L515,229.6 L517.3,229.9 L519.6,230.5 L521.9,231.2 L526.5,233 L536.5,237.4 L541.1,239.3 L547.2,241.4 L552.5,242.7 L558.7,243.9 L565.6,244.7 L574,245.2 L584.7,245.6" fill="none" stroke="#3fa67c" stroke-width="0.7"/>
<path d="M541.1,244.8 L560.2,242.8 L564.8,242.5 L568.6,242.5 L572.5,242.6 L576.3,243 L590.1,244.7 L596.2,245.4" fill="none" stroke="#e07040" stroke-width="0.7"/>
<path d="M370.3,244.7 L675.8,247.9" fill="none" stroke="#9cc0c4" stroke-width="0.8"/>
<path d="M370.3,242.9 L371.8,242.6 L373.4,242.8 L374.9,242.5 L375.7,242.9 L376.4,243 L378,241.9 L381,242.8 L382.6,242.6 L384.8,242.6 L386.4,243.3 L387.1,243.1 L387.9,242.6 L390.2,242.3 L392.5,242.9 L394.8,242.3 L397.1,242.9 L399.4,243 L400.2,243 L401.7,242.3 L402.5,242.5 L403.2,243 L404,243.2 L407.1,242.7 L408.6,243 L410.9,242.9 L411.6,243 L413.2,242.9 L413.9,243.2 L415.5,243.1 L416.2,243.3 L420.1,242.5 L421.6,242.8 L424.7,242.6 L427.7,243.4 L430,243 L432.3,242.9 L435.4,243 L436.2,242.8 L437.7,242.8 L438.4,242.6 L440,242.9 L440.7,242.4 L443.8,243 L444.6,242.7 L446.1,243.4 L448.4,242.8 L450.7,242.6 L452.2,242.8 L453,242.5 L455.3,242.5 L456.1,242.7 L457.6,242.2 L464.5,242.1 L466.8,241.4 L467.5,241.4 L469.8,241.9 L472.1,240.9 L474.4,240.8 L476,240 L476.7,239.8 L477.5,240 L479.8,239.3 L482.9,237.8 L483.6,237.7 L485.2,237 L486.7,236.8 L487.5,236.5 L489.8,235.2 L493.6,234.3 L495.9,232.9 L497.4,232.5 L498.9,231.5 L501.2,230.9 L502.8,229.7 L503.5,229.6 L504.3,229.8 L505.8,228.8 L507.4,228.4 L508.9,227.5 L510.4,227.9 L512.7,227.9 L514.3,227.4 L516.6,227.6 L518.1,228.1 L519.6,228.2 L521.1,229.1 L522.7,228.9 L524.2,230 L525.7,230.2 L526.5,230.5 L528,230.7 L530.3,232 L533.4,233 L534.2,233.1 L534.9,232.9 L536.5,233.6 L540.3,234.7 L541.1,234.9 L541.8,234.8 L543.4,235.9 L544.9,235.8 L545.7,236.2 L546.4,236.3 L547.2,236.1 L547.9,236.1 L550.2,236.7 L554.1,236.9 L556.4,237.4 L557.1,237.7 L558.7,237.6 L559.4,237.8 L561.7,238.2 L564,238.3 L565.6,238.8 L566.3,238.5 L567.9,238.9 L568.6,238.7 L569.4,239 L570.2,239.5 L571.7,239.9 L573.2,239.9 L575.5,240.5 L577,240.6 L578.6,241.1 L580.1,240.9 L581.6,241.3 L583.9,241.5 L585.5,242.2 L589.3,243.4 L590.1,243.4 L592.4,242.5 L593.9,243.5 L594.7,243.7 L595.4,243.6 L597,243.9 L598.5,243.4 L600.8,244.2 L602.3,244 L603.8,244.6 L605.4,244.7 L606.1,244.7 L607.7,244.1 L608.4,244.3 L609.2,244.8 L610,244.9 L611.5,244.6 L613.8,244.6 L615.3,245.2 L617.6,244.5 L619.2,245.1 L619.9,245.2 L622.2,244.8 L623,244.9 L624.5,245.5 L625.3,245.5 L626.1,245.2 L626.8,245.1 L627.6,245.3 L629.1,244.7 L633.7,245.6 L635.2,245.3 L637.5,245.5 L639.1,245.4 L640.6,244.9 L642.9,245.7 L644.4,245.7 L646,245.9 L647.5,245.4 L649.8,245.3 L650.6,245.6 L652.9,245.8 L654.4,245.5 L655.9,245.4 L658.2,246 L659,245.9 L661.3,245.3 L665.1,246.1 L667.4,245.9 L668.9,246 L670.5,245.8 L672,246.3 L674.3,245.5 L675.1,245.6 L675.8,245.9" fill="none" stroke="#555" stroke-width="0.6" stroke-linejoin="round"/>
<path d="M370.3,242.6 L413.2,242.9 L440,242.9 L454.5,242.6 L464.5,242 L472.1,240.9 L476,240.1 L479.8,239.1 L483.6,237.9 L487.5,236.5 L499.7,231.3 L504.3,229.6 L506.6,228.9 L508.9,228.4 L511.2,228 L513.5,227.9 L517.3,228.3 L521.1,229.1 L525,230.3 L537.2,234.6 L541.8,235.9 L547.2,237 L554.8,238.2 L571.7,240 L588.5,242.7 L596.2,243.7 L605.4,244.4 L617.6,244.9 L675.8,245.8" fill="none" stroke="#e26a63" stroke-width="0.8"/>
<rect x="370.5" y="1.5" width="302" height="256.5" fill="none" stroke="#303030" stroke-width="1"/>
<line x1="370.3" y1="258" x2="370.3" y2="262.5" stroke="#303030" stroke-width="1"/>
<line x1="400.55" y1="258" x2="400.55" y2="260.5" stroke="#303030" stroke-width="1"/>
<line x1="430.8" y1="258" x2="430.8" y2="262.5" stroke="#303030" stroke-width="1"/>
<line x1="461.05" y1="258" x2="461.05" y2="260.5" stroke="#303030" stroke-width="1"/>
<line x1="491.3" y1="258" x2="491.3" y2="262.5" stroke="#303030" stroke-width="1"/>
<line x1="521.55" y1="258" x2="521.55" y2="260.5" stroke="#303030" stroke-width="1"/>
<line x1="551.8" y1="258" x2="551.8" y2="262.5" stroke="#303030" stroke-width="1"/>
<line x1="582.05" y1="258" x2="582.05" y2="260.5" stroke="#303030" stroke-width="1"/>
<line x1="612.3" y1="258" x2="612.3" y2="262.5" stroke="#303030" stroke-width="1"/>
<line x1="642.55" y1="258" x2="642.55" y2="260.5" stroke="#303030" stroke-width="1"/>
<line x1="672.8" y1="258" x2="672.8" y2="262.5" stroke="#303030" stroke-width="1"/>
<path d="M9.5,380 L11.4,380.2 L13.3,381.5 L15.1,382.1 L17,378.9 L18.9,380.6 L22.6,379.9 L24.5,379.9 L26.4,379.3 L28.3,380.6 L30.1,379.6 L32,379.3 L33.9,380 L37.6,379 L39.5,378.8 L41.4,379.9 L43.3,378.7 L47,377.2 L48.9,377.6 L50.8,376.9 L52.6,377.9 L54.5,378 L56.4,375.9 L58.3,377.7 L60.1,378.3 L62,377.9 L63.9,377 L65.8,379 L67.7,377.4 L69.5,377 L71.4,377.2 L75.2,379.4 L77,379.7 L78.9,379 L80.8,377.9 L82.7,378.6 L84.5,378.6 L86.4,379.4 L88.3,378.1 L90.2,380 L92,380.6 L93.9,380 L95.8,380.7 L97.7,379.5 L99.5,379.1 L101.4,379.9 L103.3,381.6 L105.2,381.5 L107,380.2 L108.9,381.7 L110.8,380.4 L112.7,382.1 L116.4,380.4 L118.3,381.6 L120.2,380.2 L122.1,380.2 L123.9,379.8 L125.8,381.5 L131.4,381.3 L133.3,383.1 L135.2,381.5 L137.1,381.3 L138.9,383.2 L140.8,383.5 L142.7,382.6 L144.6,380.8 L148.3,383 L150.2,382.5 L152.1,384 L153.9,381.4 L155.8,383.3 L157.7,382.1 L159.6,383.9 L161.4,382.7 L163.3,383.7 L165.2,382.2 L167.1,381.6 L170.8,382.4 L172.7,382 L174.6,384.1 L176.5,384.2 L180.2,382.1 L182.1,383 L184,382.5 L185.8,384.5 L187.7,383.5 L189.6,383.7 L191.5,382.9 L193.3,381.5 L195.2,382.6 L197.1,382.3 L199,383.7 L200.8,383.5 L202.7,382.7 L204.6,383.1 L206.5,384.9 L208.3,382.7 L210.2,382.7 L212.1,383.4 L214,383 L215.9,383.3 L219.6,385.3 L221.5,382.1 L223.4,383.8 L225.2,383.8 L230.9,383.6 L232.7,384.8 L234.6,383.5 L236.5,383.9 L240.2,384.1 L242.1,383.9 L244,385 L245.9,384.1 L247.7,384.3 L249.6,384.2 L251.5,383.3 L253.4,383.5 L255.2,383.3 L257.1,384.5 L259,383.7 L260.9,383.4 L262.7,384.6 L264.6,384.9 L266.5,382.9 L268.4,386 L270.3,384.6 L272.1,384.5 L274,385.6 L275.9,384.7 L277.8,384.1 L279.6,386.7 L281.5,383.8 L285.3,385.5 L287.1,383.8 L289,384.8 L290.9,385.2 L292.8,387.1 L294.6,384.1 L298.4,385.6 L300.3,385.1 L302.1,384 L304,385.5 L305.9,385.2 L307.8,385.5 L309.6,386.2 L311.5,386.1 L313.4,385.6 L315.3,385.5 L317.2,384.3" fill="none" stroke="#555" stroke-width="0.7" stroke-linejoin="round"/>
<path d="M9.5,380.3 L317.2,385.3" fill="none" stroke="#e26a63" stroke-width="1.1"/>
<path d="M9.5,444.4 L11.4,444.6 L13.3,444 L15.1,444.3 L17,443.4 L18.9,445.4 L20.8,445.8 L22.6,443.4 L24.5,444 L26.4,443.3 L28.3,444.4 L30.1,443.5 L33.9,442.6 L35.8,442.8 L37.6,441.6 L39.5,443 L41.4,441.6 L43.3,442.6 L45.1,442.1 L47,442.9 L48.9,441.8 L50.8,442.6 L52.6,440.8 L54.5,442.2 L56.4,441.4 L58.3,441.8 L60.1,441.7 L62,442.5 L63.9,440 L65.8,442.2 L67.7,440.6 L69.5,443.2 L71.4,440.5 L73.3,441.5 L75.2,441.1 L77,444.2 L78.9,441.8 L80.8,443.2 L82.7,442.9 L84.5,441.9 L86.4,443.4 L88.3,444.5 L90.2,443.9 L92,445.1 L93.9,444.1 L95.8,444.5 L97.7,444.3 L99.5,445.1 L101.4,446.5 L103.3,445.2 L105.2,445.1 L107,444.4 L108.9,444.3 L110.8,446.4 L112.7,444.1 L114.6,444.3 L116.4,445.1 L118.3,444.9 L120.2,447.1 L122.1,443.3 L123.9,445.9 L125.8,446.3 L127.7,444.8 L129.6,445.3 L133.3,447.7 L135.2,445.5 L137.1,445 L138.9,447.4 L140.8,448 L144.6,444.8 L146.4,448.1 L148.3,446.7 L150.2,447.9 L152.1,446.9 L155.8,446.6 L157.7,448.4 L159.6,448.4 L161.4,445.2 L163.3,446.3 L165.2,448.8 L167.1,446.9 L169,446 L170.8,447.2 L174.6,447.2 L176.5,446.9 L178.3,447.1 L180.2,447 L182.1,447.7 L184,446.7 L185.8,447.2 L187.7,447.3 L189.6,448.7 L191.5,447.8 L193.3,447.4 L195.2,448 L197.1,447.9 L199,448.6 L200.8,448.1 L202.7,449.3 L204.6,448.9 L206.5,447.7 L208.3,447.3 L210.2,448.5 L212.1,448.2 L214,447.7 L215.9,446.5 L217.7,446.2 L219.6,448.2 L221.5,448.6 L223.4,448.6 L225.2,446.8 L227.1,448.9 L229,447.5 L230.9,448.4 L232.7,448.4 L234.6,447.3 L236.5,447.5 L238.4,446.2 L240.2,447.3 L242.1,446.5 L244,448.6 L245.9,448.3 L247.7,449 L249.6,448.6 L251.5,447.7 L253.4,448.6 L255.2,448 L257.1,448.9 L259,448.6 L260.9,447.5 L262.7,448.4 L264.6,448.5 L266.5,448.2 L268.4,449.3 L270.3,450 L272.1,448.2 L274,448.2 L275.9,446.6 L277.8,448.5 L279.6,448.2 L281.5,446.7 L283.4,448.9 L285.3,449.2 L287.1,448.1 L289,448.4 L290.9,447.9 L292.8,449.5 L294.6,447.4 L296.5,448.6 L298.4,450.6 L300.3,448.9 L302.1,449.3 L304,448.8 L305.9,447.9 L307.8,449 L309.6,449.4 L311.5,448.1 L313.4,449.4 L315.3,450.2 L317.2,450.1" fill="none" stroke="#555" stroke-width="0.7" stroke-linejoin="round"/>
<path d="M9.5,445.2 L317.2,449.1" fill="none" stroke="#e26a63" stroke-width="1.1"/>
<path d="M9.5,503.8 L11.4,504.3 L13.3,503.6 L15.1,505.9 L17,505.3 L18.9,505.2 L20.8,503.7 L22.6,503.2 L24.5,504.2 L26.4,504 L28.3,503 L30.1,503.7 L32,503.9 L33.9,503.4 L37.6,500.9 L39.5,502.4 L41.4,502.6 L43.3,502.1 L47,501.5 L48.9,502.6 L50.8,501.9 L52.6,502 L54.5,501 L56.4,501.3 L58.3,502 L60.1,501 L62,500.9 L63.9,501.8 L65.8,503.3 L67.7,502.5 L69.5,503.8 L71.4,502.6 L73.3,502.6 L75.2,501.8 L77,502.8 L78.9,504.8 L80.8,504 L82.7,504.5 L84.5,504.7 L86.4,504.2 L88.3,504.2 L92,505.2 L95.8,505.2 L97.7,505 L99.5,504.2 L101.4,504.7 L103.3,504.1 L105.2,505.9 L107,503.1 L108.9,504.9 L110.8,507.3 L112.7,504.9 L114.6,504.3 L118.3,506.8 L120.2,505.6 L122.1,506.5 L125.8,506 L127.7,509.3 L129.6,506.7 L131.4,506.3 L133.3,506.5 L135.2,507.4 L137.1,507.5 L138.9,507.9 L140.8,507.4 L142.7,506.1 L144.6,507.9 L146.4,507.2 L148.3,507.3 L150.2,506.2 L152.1,507.1 L153.9,506.9 L155.8,507.6 L157.7,506.3 L159.6,507.7 L161.4,507.8 L163.3,506.7 L165.2,507.2 L167.1,507 L169,508.6 L170.8,505.5 L172.7,507.5 L174.6,506.3 L178.3,508.6 L180.2,507.3 L182.1,508 L184,507.1 L185.8,509.7 L187.7,508.8 L189.6,509 L191.5,506.8 L193.3,507 L195.2,509 L197.1,507.9 L199,507.8 L200.8,508.4 L202.7,507 L204.6,508.8 L206.5,508.1 L208.3,508.6 L210.2,507.6 L212.1,508.6 L214,507.6 L215.9,509.1 L217.7,509.2 L221.5,508.7 L223.4,508.9 L225.2,505.9 L227.1,509.1 L229,508.1 L230.9,508.4 L232.7,508.1 L234.6,507.1 L236.5,507.9 L238.4,509 L240.2,509.7 L242.1,507.9 L244,507.7 L245.9,509.8 L247.7,507.7 L249.6,510.4 L251.5,508.6 L253.4,507.8 L255.2,509.5 L257.1,510.1 L259,507.3 L260.9,510.1 L262.7,508.4 L264.6,510 L266.5,508.4 L268.4,507.3 L270.3,509.2 L272.1,509.6 L274,510.7 L275.9,510.3 L279.6,508.6 L281.5,508.4 L283.4,508.6 L285.3,508.1 L287.1,508.7 L289,506.6 L290.9,509.1 L292.8,508.9 L294.6,511.3 L296.5,509.7 L298.4,508.6 L300.3,509.5 L302.1,508 L304,508.5 L305.9,507.4 L307.8,510.4 L309.6,509.7 L311.5,508.1 L315.3,510 L317.2,509.6" fill="none" stroke="#444" stroke-width="0.7" stroke-linejoin="round"/>
<path d="M9.5,506.2 L317.2,509.2" fill="none" stroke="#e26a63" stroke-width="1.1"/>
<path d="M75.4,573.8 L98,573.5 L111.4,573 L116.5,572.7 L121.7,572.1 L138.1,569.7 L141.2,569.4 L144.3,569.4 L149.4,569.7 L164.9,571.8 L170,572.4 L175.2,572.8 L188.5,573.3 L212.2,573.4 L212.2,573.6 L75.4,573.9 Z" fill="url(#g5)" stroke="none"/>
<path d="M72.3,573.8 L83.6,573.5 L92.8,572.8 L101.1,571.8 L118.6,569.2 L123.7,568.7 L127.8,568.6 L131.9,568.7 L137.1,569.2 L154.6,571.8 L162.8,572.7 L172.1,573.3 L183.4,573.5 L183.4,573.6 L72.3,573.9 Z" fill="url(#g6)" stroke="none"/>
<path d="M126.8,573.6 L153.6,573.3 L159.7,573 L164.9,572.4 L169,571.6 L172.1,570.7 L175.2,569.6 L182.4,566.3 L184.4,565.5 L186.5,564.9 L188.5,564.6 L190.6,564.7 L192.6,565.2 L195.7,566.4 L201.9,569.2 L205,570.4 L209.1,571.6 L213.2,572.3 L218.4,572.8 L224.5,573.1 L251.3,573.3 L251.3,573.5 L126.8,573.8 Z" fill="url(#g7)" stroke="none"/>
<path d="M9.5,573.5 L38.3,572.9 L48.6,572.4 L57.9,571.8 L65.1,571.1 L71.2,570.1 L75.4,569.2 L79.5,567.8 L82.6,566.3 L85.6,564.2 L88.7,561.4 L90.8,559.1 L92.8,556.2 L95.9,551.1 L102.1,538.8 L104.2,535.3 L105.2,533.9 L106.2,532.9 L107.2,532.4 L108.3,532.3 L109.3,532.7 L110.3,533.5 L111.4,534.7 L112.4,536.3 L114.5,540.1 L118.6,548.4 L120.6,552.2 L123.7,557.1 L126.8,560.9 L129.9,563.8 L131.9,565.3 L134,566.5 L136.1,567.5 L138.1,568.3 L143.3,569.7 L150.5,570.8 L158.7,571.6 L170,572.3 L184.4,572.7 L202.9,573 L226.6,573.1 L303.8,573.2 L303.8,573.3 L9.5,574.1 Z" fill="url(#g8)" stroke="none"/>
<path d="M116.5,572.7 L123.7,571.8 L138.1,569.7 L141.2,569.4 L144.3,569.4 L147.4,569.5 L150.5,569.8 L163.8,571.7 L171,572.5" fill="none" stroke="#d65a50" stroke-width="0.7"/>
<path d="M95.9,572.5 L102.1,571.7 L118.6,569.2 L123.7,568.7 L127.8,568.6 L131.9,568.7 L137.1,569.2 L152.5,571.5 L158.7,572.3" fill="none" stroke="#d0b098" stroke-width="0.7"/>
<path d="M156.6,573.2 L163.8,572.6 L166.9,572.1 L170,571.4 L172.1,570.7 L175.2,569.6 L182.4,566.3 L184.4,565.5 L186.5,564.9 L188.5,564.6 L190.6,564.7 L193.7,565.5 L202.9,569.6 L206,570.7 L208.1,571.3 L213.2,572.3 L216.3,572.7 L220.4,573" fill="none" stroke="#55649a" stroke-width="0.7"/>
<path d="M10.5,573.5 L39.3,572.8 L49.6,572.4 L57.9,571.8 L65.1,571.1 L71.2,570.1 L75.4,569.2 L79.5,567.8 L82.6,566.3 L85.6,564.2 L88.7,561.4 L90.8,559.1 L92.8,556.2 L95.9,551.1 L102.1,538.8 L104.2,535.3 L105.2,533.9 L106.2,532.9 L107.2,532.4 L108.3,532.3 L109.3,532.7 L110.3,533.5 L111.4,534.7 L112.4,536.3 L114.5,540.1 L118.6,548.4 L120.6,552.2 L122.7,555.6 L124.7,558.5 L126.8,560.9 L129.9,563.8 L133,565.9 L136.1,567.5 L140.2,568.9 L144.3,569.9 L150.5,570.8 L157.7,571.5 L165.9,572.1 L176.2,572.5 L205,573" fill="none" stroke="#6cc0cc" stroke-width="0.7"/>
<path d="M9.5,574.1 L317.2,573.3" fill="none" stroke="#e8c8a8" stroke-width="0.8"/>
<path d="M9.5,572.6 L10.5,571.9 L11.6,572 L13.6,572.8 L14.6,571.9 L15.7,571.7 L16.7,572.9 L17.7,571.7 L18.8,572.8 L19.8,572.3 L21.8,573.1 L22.9,572.5 L23.9,572.5 L24.9,571.6 L26,571.6 L28,572.7 L29,572.6 L30.1,573 L31.1,571.8 L32.1,571.6 L33.2,571.9 L34.2,571.1 L35.2,570.9 L36.3,570.1 L37.3,571.1 L38.3,569.8 L39.3,570.5 L40.4,569.4 L41.4,570.8 L42.4,569.6 L43.5,570.8 L44.5,569.5 L46.5,571.3 L47.6,570.3 L48.6,570.9 L49.6,570.6 L50.7,569.6 L51.7,571.1 L52.7,571.1 L53.7,570.2 L54.8,571.1 L55.8,570.3 L56.8,570.1 L57.9,570.6 L58.9,570.1 L59.9,571.6 L60.9,569.4 L62,570.6 L63,570.6 L64,568.8 L65.1,568.8 L66.1,570 L67.1,569.2 L69.2,569.8 L70.2,568.8 L71.2,568.2 L72.3,567 L73.3,568.4 L74.3,567.5 L75.4,567.9 L76.4,567.5 L77.4,566.2 L78.4,567.6 L80.5,566.1 L81.5,564.5 L82.6,564.3 L84.6,562.8 L85.6,561.5 L86.7,561.3 L88.7,558.8 L89.8,557 L90.8,556.5 L91.8,554.4 L92.8,551.3 L93.9,550.9 L95.9,548.4 L99,541.3 L100,539.8 L101.1,537 L103.1,532.5 L104.2,531.4 L106.2,527.4 L107.2,527.9 L108.3,526.9 L110.3,528.3 L112.4,531 L113.4,531.6 L114.5,533.6 L115.5,534.8 L116.5,538.3 L117.5,539.5 L118.6,541.8 L120.6,543.3 L121.7,546.8 L122.7,547.4 L125.8,551.2 L126.8,552.1 L127.8,551.8 L128.9,554.1 L129.9,553.9 L130.9,554.5 L131.9,556.3 L133,556.3 L135,555.6 L136.1,557.1 L137.1,557.6 L138.1,557.6 L139.1,557.2 L140.2,557.8 L141.2,557.8 L142.2,558.9 L144.3,559.8 L145.3,559.2 L146.3,560 L147.4,560.4 L148.4,560.2 L149.4,560.7 L150.5,562.2 L151.5,561.5 L152.5,562.2 L153.6,561.8 L154.6,562.4 L155.6,561.7 L156.6,563 L158.7,564.8 L162.8,564.4 L164.9,565.6 L165.9,565 L166.9,566.1 L168,565.1 L169,564.7 L170,565.2 L171,564.8 L172.1,564.9 L173.1,566.2 L174.1,565.3 L175.2,565.3 L176.2,565.6 L177.2,565.4 L178.2,564.1 L179.3,564.8 L180.3,564 L181.3,563.4 L182.4,563.3 L183.4,562 L186.5,562.4 L187.5,561.8 L188.5,561.9 L189.6,562.6 L190.6,563 L191.6,562.9 L192.6,563.5 L193.7,563 L194.7,563.5 L195.7,564.3 L197.8,564.8 L198.8,566.6 L199.9,566 L200.9,566.1 L202.9,568.6 L204,568.1 L205,569.1 L206,568.5 L208.1,569.1 L209.1,569.6 L210.1,571 L211.2,569.6 L212.2,571.3 L213.2,570 L215.3,571.3 L217.3,571.2 L218.4,570.2 L219.4,571.4 L220.4,570.7 L221.5,572.8 L222.5,571.3 L223.5,571.5 L224.5,570.9 L225.6,571.3 L226.6,570.8 L227.6,572.1 L228.7,571.5 L229.7,571.9 L230.7,571.3 L231.7,571.4 L232.8,572.4 L233.8,571.2 L234.8,570.8 L235.9,572 L236.9,571.1 L237.9,571.6 L239,572.3 L240,571.4 L241,572.3 L242,571.5 L243.1,572.7 L244.1,572.6 L245.1,571.6 L246.2,571.8 L247.2,571.4 L249.2,572.6 L250.3,571.1 L251.3,572.4 L252.3,571.2 L253.4,571.5 L254.4,571 L255.4,573.1 L256.4,572 L257.5,572.1 L258.5,571.6 L259.5,572.6 L260.6,570.8 L262.6,573.2 L263.6,571.8 L265.7,572.4 L266.7,571.6 L268.8,572.6 L269.8,572.1 L270.8,572.2 L271.9,571.8 L272.9,572.2 L273.9,572.1 L275,572.9 L277,571.9 L278.1,570.7 L279.1,572.5 L280.1,572.5 L281.1,571.6 L282.2,571 L283.2,571.4 L284.2,572.6 L285.3,571.5 L287.3,572.2 L288.3,572.8 L289.4,572.1 L291.4,571.8 L292.5,573 L293.5,572.7 L295.5,571.3 L296.6,571.7 L297.6,572.4 L298.6,571.7 L299.7,572.6 L300.7,572.3 L303.8,572.4 L304.8,571.6 L305.8,571.9 L306.9,573.4 L307.9,571.4 L308.9,571.8 L309.9,572.7 L311,572 L313,571.4 L314.1,572.4 L316.1,572.9 L317.2,572.1" fill="none" stroke="#666" stroke-width="0.6" stroke-linejoin="round"/>
<path d="M9.5,573 L38.3,572.4 L48.6,571.9 L57.9,571.2 L65.1,570.5 L71.2,569.4 L75.4,568.4 L79.5,566.9 L82.6,565.2 L85.6,563 L88.7,560 L90.8,557.5 L92.8,554.4 L95.9,549 L102.1,535.7 L104.2,531.8 L105.2,530.3 L106.2,529.1 L107.2,528.3 L108.3,528 L109.3,528.2 L110.3,528.8 L111.4,529.8 L113.4,532.7 L118.6,541.9 L121.7,546.8 L124.7,550.7 L126.8,552.8 L128.9,554.5 L131.9,556.5 L136.1,558.4 L155.6,565.4 L158.7,566.4 L161.8,567.2 L164.9,567.7 L166.9,567.8 L170,567.8 L172.1,567.5 L176.2,566.5 L184.4,563.6 L186.5,563.1 L188.5,562.9 L190.6,563.1 L193.7,564 L202.9,568.3 L207.1,569.8 L209.1,570.4 L212.2,571.1 L218.4,571.8 L227.6,572.2 L246.2,572.5 L317.2,572.7" fill="none" stroke="#e26a63" stroke-width="0.8"/>
<rect x="9.5" y="323.5" width="308" height="256.5" fill="none" stroke="#303030" stroke-width="1"/>
<line x1="9.5" y1="580" x2="9.5" y2="584.5" stroke="#303030" stroke-width="1"/>
<line x1="50.52" y1="580" x2="50.52" y2="584.5" stroke="#303030" stroke-width="1"/>
<line x1="91.54" y1="580" x2="91.54" y2="584.5" stroke="#303030" stroke-width="1"/>
<line x1="132.56" y1="580" x2="132.56" y2="584.5" stroke="#303030" stroke-width="1"/>
<line x1="173.58" y1="580" x2="173.58" y2="584.5" stroke="#303030" stroke-width="1"/>
<line x1="214.6" y1="580" x2="214.6" y2="584.5" stroke="#303030" stroke-width="1"/>
<line x1="255.62" y1="580" x2="255.62" y2="584.5" stroke="#303030" stroke-width="1"/>
<line x1="296.64" y1="580" x2="296.64" y2="584.5" stroke="#303030" stroke-width="1"/>
<path d="M382.2,395.1 L419.3,394.8 L442.5,394.4 L454.9,393.9 L459.5,393.5 L463.4,393 L466.5,392.5 L469.6,391.7 L472.6,390.8 L475,389.9 L478.1,388.4 L481.2,386.7 L489.7,381.3 L492.8,379.6 L495.1,378.5 L496.6,378.1 L498.2,377.8 L499.7,377.7 L501.3,377.9 L502.8,378.2 L505.9,379.4 L509,381.2 L518.3,386.9 L521.4,388.5 L523.7,389.6 L526,390.5 L529.1,391.4 L532.2,392.2 L535.3,392.7 L539.2,393.1 L543.8,393.5 L556.2,393.9 L579.4,394 L616.5,394 L616.5,394.2 L382.2,395.2 Z" fill="url(#g9)" stroke="none"/>
<path d="M463.4,394.7 L488.1,394.4 L502,393.8 L507.4,393.3 L512.9,392.7 L531.4,390 L535.3,389.6 L538.4,389.5 L541.5,389.6 L545.3,390 L563.1,392.5 L568.5,393 L574,393.5 L580.1,393.8 L587.9,393.9 L612.6,394.1 L612.6,394.2 L463.4,394.9 Z" fill="url(#g10)" stroke="none"/>
<path d="M442.5,394.4 L452.5,394 L459.5,393.5 L464.9,392.8 L470.3,391.5 L475,389.9 L478.8,388 L482.7,385.8 L490.4,380.8 L493.5,379.2 L496.6,378.1 L498.2,377.8 L499.7,377.7 L501.3,377.9 L502.8,378.2 L505.9,379.4 L509,381.2 L516,385.6 L519.8,387.8 L523.7,389.6 L528.3,391.2 L533.7,392.4 L539.2,393.1 L546.1,393.6 L556.2,393.9" fill="none" stroke="#6ab898" stroke-width="0.7"/>
<path d="M495.8,394.1 L502.8,393.7 L509,393.2 L516,392.3 L530.6,390 L534.5,389.7 L538.4,389.5 L542.2,389.7 L546.1,390 L560,392.1 L567,392.9 L573.2,393.4 L580.1,393.8" fill="none" stroke="#5ab4c2" stroke-width="0.7"/>
<path d="M369.8,395.6 L678.4,394.2" fill="none" stroke="#5ab4c2" stroke-width="1.0"/>
<path d="M369.8,395 L371.3,394.8 L373.7,395.1 L379.1,394.6 L380.6,394.9 L384.5,394.6 L387.6,394.8 L389.9,394.4 L391.5,394.8 L393.8,395 L396.9,394.5 L398.4,394.7 L401.5,394.8 L405.4,394.5 L406.9,394.7 L407.7,394.6 L409.2,394.8 L410.8,394.5 L412.3,394.4 L413.9,394.9 L419.3,394.4 L421.6,394.6 L423.2,394.2 L424.7,394.9 L427,394.2 L430.9,394.5 L432.4,394.1 L434.8,393.9 L436.3,394.2 L437.9,394.1 L439.4,394.5 L442.5,393.9 L445.6,394.4 L447.9,394 L449.5,393.4 L454.1,393.8 L455.6,393.3 L457.2,393.2 L458,393 L461.1,392.9 L463.4,392 L467.2,391.4 L469.6,390.4 L471.1,390.2 L474.2,389.1 L476.5,387.7 L480.4,386 L482.7,384.3 L484.2,383.6 L488.1,381.2 L490.4,379.3 L492,378.7 L493.5,377.7 L495.1,376.5 L499.7,376.1 L501.3,375.7 L502.8,376.3 L503.6,376.3 L505.1,377.2 L506.7,377.5 L508.2,378.5 L509.8,379 L512.1,380.5 L512.9,380.8 L514.4,381.1 L516,382.3 L518.3,383.3 L519.8,383.5 L522.9,384.6 L524.5,384.5 L526.8,385.3 L528.3,385.4 L529.9,385.9 L532.2,386.2 L533.7,386.2 L535.3,386.8 L537.6,386.4 L538.4,386.5 L539.9,387.4 L544.6,388.2 L546.1,388.1 L547.7,388.9 L550,389.1 L551.5,389.7 L553.8,389.4 L556.2,390.1 L556.9,390.7 L558.5,390.7 L560,391.2 L563.1,391.2 L565.4,391.9 L567,391.8 L570.1,392.5 L571.6,392.3 L574,392.7 L575.5,393.2 L576.3,393 L577.8,393.2 L579.4,392.9 L584,393.6 L585.6,393.2 L587.9,393.5 L591,393.2 L592.5,393.5 L595.6,393.3 L597.9,393.6 L601,393.3 L603.3,393.7 L605.7,393.8 L611.1,393.6 L612.6,393.9 L614.9,393.4 L617.3,393.8 L620.4,393.6 L622.7,394.1 L625,393.6 L626.5,393.7 L628.9,393.6 L631.2,393.9 L633.5,393.3 L636.6,393.7 L640.5,393.3 L642,393.7 L642.8,393.7 L644.3,393.9 L646.6,393.6 L650.5,393.9 L654.4,393.5 L657.5,393.8 L659,393.4 L661.3,393.2 L666,393.9 L669.8,393.6 L672.2,393.8 L673.7,393.8 L676,393.4 L678.4,393.5" fill="none" stroke="#555" stroke-width="0.6" stroke-linejoin="round"/>
<path d="M369.8,394.9 L413.1,394.6 L439.4,394.1 L453.3,393.6 L458.7,393.2 L462.6,392.7 L465.7,392.2 L468.8,391.5 L471.9,390.5 L475,389.3 L478.1,387.8 L481.2,386 L490.4,379.8 L493.5,378 L496.6,376.7 L498.2,376.4 L499.7,376.2 L502,376.4 L505.1,377.2 L508.2,378.6 L514.4,381.9 L518.3,383.7 L521.4,384.9 L525.2,386 L529.9,386.8 L543,388.3 L560,391.3 L565.4,392 L570.1,392.5 L580.9,393.3 L596.4,393.6 L626.5,393.7 L678.4,393.6" fill="none" stroke="#e26a63" stroke-width="0.75"/>
<path d="M369.8,454.2 L413.9,453.8 L440.2,453.2 L447.9,452.8 L454.1,452.3 L458.7,451.6 L462.6,450.7 L465.7,449.7 L468.8,448.2 L471.9,446.2 L474.2,444.4 L477.3,441.3 L480.4,437.7 L482.7,434.7 L489.7,425 L492.8,421.3 L494.3,419.9 L495.8,418.8 L497.4,418.1 L498.9,417.9 L500.5,418.2 L502,418.9 L503.6,420 L505.1,421.5 L508.2,425.2 L514.4,433.8 L517.5,437.9 L520.6,441.4 L523.7,444.4 L526.8,446.7 L529.9,448.5 L533,449.8 L536.8,450.9 L541.5,451.7 L546.9,452.3 L554.6,452.6 L564.7,452.9 L597.9,453.2 L655.2,453.2 L655.2,453.4 L369.8,454.4 Z" fill="url(#g11)" stroke="none"/>
<path d="M447.9,454 L482.7,453.6 L491.2,453.3 L498.2,452.8 L504.4,452.1 L509.8,451.1 L514.4,450.1 L523.7,447.8 L527.6,446.9 L530.6,446.5 L533.7,446.3 L536.8,446.4 L539.9,446.8 L543.8,447.6 L553.1,449.9 L558.5,451 L563.9,451.9 L570.1,452.6 L577,453 L585.6,453.2 L619.6,453.4 L619.6,453.5 L447.9,454.1 Z" fill="url(#g10)" stroke="none"/>
<path d="M421.6,453.6 L441.7,453.1 L447.9,452.8 L453.3,452.4 L457.2,451.9 L461.1,451.1 L464.1,450.2 L467.2,449 L470.3,447.3 L472.6,445.6 L475,443.7 L477.3,441.3 L479.6,438.7 L481.9,435.7 L490.4,424 L492,422.2 L493.5,420.6 L495.1,419.3 L496.6,418.4 L498.2,418 L498.9,417.9 L499.7,418 L501.3,418.5 L502.8,419.4 L504.4,420.7 L505.9,422.4 L507.4,424.2 L516,435.9 L518.3,438.8 L520.6,441.4 L522.9,443.7 L525.2,445.6 L527.6,447.2 L530.6,448.9 L533.7,450.1 L536.8,450.9 L540.7,451.6 L544.6,452.1 L550,452.4 L556.2,452.7 L575.5,453.1" fill="none" stroke="#4aa884" stroke-width="0.7"/>
<path d="M488.9,453.4 L497.4,452.9 L505.1,451.9 L512.1,450.6 L526.8,447.1 L530.6,446.5 L533.7,446.3 L536.8,446.4 L540.7,447 L544.6,447.8 L555.4,450.4 L562.4,451.7 L570.1,452.6 L579.4,453.1" fill="none" stroke="#5ab4c2" stroke-width="0.7"/>
<path d="M369.8,454.7 L678.4,453.6" fill="none" stroke="#5ab4c2" stroke-width="1.0"/>
<path d="M369.8,454.1 L372.9,453.7 L374.4,454 L376,453.6 L378.3,454 L379.9,453.8 L383.7,453.9 L386,453.5 L387.6,453.7 L389.1,453.5 L391.5,454 L392.2,454 L393.8,453.5 L398.4,453.9 L400.7,453.6 L403.8,453.8 L405.4,453.5 L408.5,453.8 L411.6,453.5 L413.1,453.6 L414.7,453.3 L417,453.1 L417.7,453.3 L421.6,453.1 L423.2,453.6 L425.5,453 L428.6,453.1 L434,452.7 L437.1,453 L443.3,452.4 L445.6,452.6 L447.1,452.2 L448.7,452.6 L449.5,452.5 L451.8,451.8 L454.1,451.9 L457.2,451.1 L458.7,451.4 L459.5,451.3 L461.1,450.7 L462.6,449.8 L465.7,449.3 L467.2,448.2 L469.6,447 L471.1,445.7 L472.6,444.9 L475,442.8 L477.3,440.4 L480.4,436 L481.9,434.4 L485,429.5 L486.6,427.5 L492.8,418.4 L495.8,415.7 L496.6,415.3 L499.7,414.2 L502,415 L505.9,417.3 L512.1,424.2 L516.7,429.8 L519.8,432.4 L522.1,434.8 L524.5,436.1 L526,437.6 L529.9,439.6 L531.4,440.1 L533,441.1 L539.2,443.3 L542.2,444.7 L543.8,445 L545.3,445.8 L546.9,446.1 L547.7,446.6 L551.5,447.5 L557.7,449.5 L560,449.7 L561.6,450.5 L564.7,450.8 L567.8,451.4 L570.1,451.4 L570.9,451.6 L572.4,452.4 L574,451.9 L576.3,451.9 L580.1,452.5 L582.5,452.1 L584.8,452.6 L588.6,452.4 L590.2,452.8 L591.7,452.6 L594.1,452.9 L594.8,452.6 L595.6,452.5 L597.2,452.8 L598.7,452.7 L600.2,453 L601.8,452.7 L603.3,452.9 L608,452.5 L611.8,452.9 L615.7,452.5 L617.3,453 L619.6,452.7 L621.1,452.9 L623.4,452.6 L625,453 L627.3,452.7 L628.9,452.9 L631.2,452.5 L633.5,453 L634.3,452.8 L639.7,453.1 L643.6,452.7 L649.7,453.1 L652.1,452.9 L653.6,453.2 L655.9,452.8 L659,453.1 L659.8,452.9 L661.3,453 L662.9,452.8 L670.6,453.1 L672.9,452.9 L674.5,453.2 L676,452.8 L677.6,453 L678.4,452.8" fill="none" stroke="#555" stroke-width="0.6" stroke-linejoin="round"/>
<path d="M369.8,453.9 L413.9,453.5 L440.2,452.8 L447.9,452.4 L454.1,451.8 L458.7,451.1 L462.6,450.2 L465.7,449.1 L468.8,447.5 L471.9,445.5 L475,442.8 L477.3,440.3 L480.4,436.6 L483.5,432.3 L489.7,423.1 L492.8,419.2 L494.3,417.6 L495.8,416.4 L497.4,415.6 L498.9,415.2 L499.7,415.2 L501.3,415.6 L502.8,416.3 L504.4,417.5 L507.4,420.6 L514.4,429 L517.5,432.4 L519.8,434.6 L521.4,435.9 L522.9,437 L525.2,438.5 L527.6,439.6 L530.6,440.9 L547.7,446.7 L553.8,448.6 L560,450.1 L565.4,451.1 L571.6,451.8 L578.6,452.3 L587.1,452.6 L619.6,452.9 L678.4,452.9" fill="none" stroke="#e26a63" stroke-width="0.75"/>
<path d="M369.8,513.8 L413.9,513.3 L440.2,512.6 L447.9,512.2 L454.1,511.7 L458.7,511 L462.6,510 L466.5,508.5 L469.6,506.7 L472.6,504.4 L475,502.1 L477.3,499.4 L480.4,495.2 L483.5,490.5 L488.9,481.7 L492,477.2 L493.5,475.5 L495.1,474.1 L496.6,473.2 L498.2,472.9 L499.7,473.2 L501.3,473.9 L502.8,475.2 L504.4,476.9 L507.4,481.3 L513.6,491.3 L516.7,495.9 L519.8,499.9 L522.1,502.5 L525.2,505.2 L528.3,507.3 L531.4,508.8 L535.3,510.1 L539.9,511 L545.3,511.5 L553.1,512 L563.9,512.3 L597.9,512.6 L659,512.5 L659,512.7 L369.8,514 Z" fill="url(#g11)" stroke="none"/>
<path d="M447.1,513.5 L482.7,513.1 L491.2,512.7 L498.2,512.2 L503.6,511.5 L508.2,510.7 L513.6,509.3 L525.2,505.8 L529.1,505 L532.2,504.8 L535.3,504.9 L538.4,505.4 L541.5,506.2 L550.8,508.9 L555.4,510.1 L560.8,511.2 L567,511.9 L574,512.4 L582.5,512.6 L618,512.7 L618,512.9 L447.1,513.6 Z" fill="url(#g10)" stroke="none"/>
<path d="M419.3,513.2 L440.9,512.6 L447.9,512.2 L453.3,511.8 L457.2,511.3 L461.1,510.5 L464.1,509.5 L467.2,508.1 L469.6,506.7 L471.9,505 L474.2,502.9 L475.7,501.3 L478.1,498.4 L480.4,495.2 L483.5,490.5 L488.9,481.7 L492,477.2 L493.5,475.5 L495.1,474.1 L496.6,473.2 L498.2,472.9 L499.7,473.2 L501.3,473.9 L502.8,475.2 L504.4,476.9 L507.4,481.3 L516,494.8 L518.3,498 L520.6,500.8 L522.9,503.2 L525.2,505.2 L527.6,506.8 L529.9,508.1 L533,509.4 L536.1,510.3 L539.9,511 L543.8,511.4 L549.2,511.8 L556.2,512.1 L577,512.5" fill="none" stroke="#4aa884" stroke-width="0.7"/>
<path d="M488.1,512.9 L497.4,512.3 L501.3,511.9 L505.1,511.3 L512.1,509.7 L522.9,506.4 L526,505.6 L529.1,505 L532.2,504.8 L535.3,504.9 L539.2,505.6 L552.3,509.4 L559.3,510.9 L563.1,511.5 L567,511.9 L576.3,512.5" fill="none" stroke="#5ab4c2" stroke-width="0.7"/>
<path d="M369.8,514.3 L678.4,512.9" fill="none" stroke="#5ab4c2" stroke-width="1.0"/>
<path d="M369.8,513.6 L370.6,513.8 L372.1,513.5 L373.7,513.7 L376.8,513.3 L379.9,513.6 L381.4,513 L383.7,513.4 L389.9,513.2 L390.7,513 L396.1,513.4 L398.4,513 L400.7,513.3 L403.8,512.9 L407.7,512.9 L410,513.3 L411.6,513.1 L414.7,513.3 L417.7,512.3 L419.3,512.8 L424.7,513.1 L426.3,512.7 L427,512.8 L429.3,512.5 L432.4,512.7 L434,512.4 L437.1,512.7 L438.6,512.3 L439.4,512.4 L441.7,512.1 L443.3,512.2 L444.8,512 L446.4,512 L447.9,511.4 L451.8,511.6 L453.3,511.3 L454.9,511.3 L455.6,511 L457.2,510.9 L458.7,510.2 L461.8,509.8 L464.9,508.6 L467.2,507.4 L471.9,504.1 L474.2,501.8 L478.1,497.2 L481.9,491.3 L486.6,483 L492.8,472.9 L496.6,469.5 L497.4,469.2 L500.5,469.1 L501.3,469.3 L502.8,470.5 L505.1,472.8 L507.4,475.4 L510.5,479.8 L515.2,485.8 L518.3,489.4 L523.7,494.5 L525.2,495.2 L526.8,496.4 L529.1,497.7 L531.4,498.6 L533.7,499.8 L538.4,501.6 L543,504 L545.3,504.7 L546.9,505.7 L548.4,506.1 L551.5,507.5 L554.6,508.4 L556.2,509 L557.7,509.2 L560.8,510.1 L562.4,510.1 L566.2,511 L568.5,510.8 L570.9,511.4 L572.4,511.2 L574,511.5 L577,511.4 L578.6,511.8 L580.9,511.6 L584.8,512.2 L586.3,511.9 L590.2,512.2 L591,512 L593.3,511.9 L595.6,512.1 L597.9,511.9 L599.5,512.1 L600.2,511.9 L604.1,512.3 L606.4,512.1 L611.1,512.4 L612.6,512.1 L616.5,512.3 L618,512.1 L619.6,512.3 L621.9,512.1 L622.7,512.2 L624.2,511.8 L626.5,512.2 L628.1,512.2 L630.4,512.6 L632.7,512.2 L635,512.3 L636.6,512 L640.5,512 L642,512.3 L642.8,512.1 L645.9,512.2 L647.4,512.5 L649,512.4 L649.7,512.6 L651.3,512.3 L655.2,512.2 L658.2,512 L660.6,512.7 L662.1,512.4 L664.4,512.5 L668.3,512 L669.8,512.3 L671.4,512.2 L672.9,512.5 L674.5,512.1 L676,512.3 L677.6,512.1 L678.4,512.2" fill="none" stroke="#555" stroke-width="0.6" stroke-linejoin="round"/>
<path d="M369.8,513.5 L413.9,513 L440.2,512.2 L447.9,511.8 L454.1,511.2 L458.7,510.5 L462.6,509.4 L466.5,507.9 L469.6,506 L472.6,503.5 L475,501.1 L477.3,498.3 L480.4,493.9 L483.5,488.9 L489.7,478.3 L492.8,473.8 L494.3,472.1 L495.8,470.8 L497.4,470 L498.9,469.8 L499.7,469.9 L501.3,470.6 L502.8,471.7 L504.4,473.2 L506.7,476.1 L512.9,484.9 L516,488.9 L519,492.3 L520.6,493.7 L522.9,495.5 L525.2,496.9 L528.3,498.4 L537.6,502 L546.1,505.5 L552.3,507.7 L557.7,509.3 L563.1,510.3 L569.3,511.1 L576.3,511.6 L584.8,511.9 L618,512.2 L678.4,512.2" fill="none" stroke="#e26a63" stroke-width="0.75"/>
<path d="M365.6,573.8 L411.8,573.4 L439.3,572.9 L448.7,572.5 L456.5,572.1 L462,571.5 L466.7,570.8 L470.6,569.9 L473.8,568.8 L476.9,567.2 L479.3,565.7 L481.6,563.8 L484.7,560.8 L491.8,552.6 L494.1,550.2 L495.7,549 L496.5,548.5 L498.1,548 L498.8,547.9 L499.6,548 L501.2,548.5 L502,549 L503.6,550.2 L505.9,552.6 L513,560.7 L516.1,563.7 L518.4,565.5 L521.6,567.4 L524.7,568.9 L527.9,569.9 L531.8,570.7 L536.5,571.3 L542.7,571.8 L551.4,572.1 L561.6,572.4 L590.6,572.6 L639.9,572.6 L639.9,572.8 L365.6,574 Z" fill="url(#g5)" stroke="none"/>
<path d="M421.2,573.6 L454.2,573.3 L474.5,572.9 L487.9,572.3 L491.8,572 L495.7,571.5 L498.8,570.9 L501.2,570.2 L503.6,569.4 L505.9,568.3 L508.3,566.9 L510.6,565.3 L516.9,560.1 L519.2,558.3 L521.6,557.1 L523.1,556.8 L523.9,556.8 L525.5,557.1 L527.9,558.3 L529.4,559.5 L536.5,565.2 L538.8,566.8 L541.2,568.2 L543.5,569.2 L545.9,570.1 L548.2,570.7 L551.4,571.3 L555.3,571.7 L559.2,572 L572.5,572.5 L592.9,572.7 L625.8,572.7 L625.8,572.8 L421.2,573.8 Z" fill="url(#g10)" stroke="none"/>
<path d="M389.1,573.7 L443.2,573.3 L475.3,572.8 L494.9,572.1 L501.2,571.7 L506.7,571 L510.6,570.3 L514.5,569.3 L517.7,568.2 L520.8,566.8 L523.9,565.1 L527.1,563.1 L530.2,560.7 L536.5,555.6 L539.6,553.3 L541.2,552.4 L542.7,551.7 L544.3,551.3 L545.9,551.2 L547.4,551.4 L549,551.8 L550.6,552.6 L552.1,553.5 L554.5,555.2 L563.1,562.1 L566.3,564.2 L569.4,566 L572.5,567.5 L575.7,568.7 L579.6,569.8 L583.5,570.5 L588.2,571.1 L593.7,571.5 L610.2,572.1 L636.8,572.4 L678.4,572.4 L678.4,572.6 L389.1,573.9 Z" fill="url(#g12)" stroke="none"/>
<path d="M450.2,572.4 L459.7,571.8 L465.9,571 L470.6,569.9 L473,569.1 L475.3,568 L477.7,566.7 L479.3,565.7 L480.8,564.5 L483.2,562.4 L485.5,559.9 L491.8,552.6 L494.1,550.2 L495.7,549 L496.5,548.5 L498.1,548 L498.8,547.9 L499.6,548 L501.2,548.5 L502,549 L503.6,550.2 L505.9,552.6 L511.4,559 L514.5,562.3 L516.9,564.3 L518.4,565.5 L520,566.5 L522.4,567.8 L524.7,568.9 L527.1,569.6 L531.8,570.7 L538,571.4 L547.4,572" fill="none" stroke="#d65a50" stroke-width="0.7"/>
<path d="M473.8,572.9 L484.7,572.5 L491.8,572 L497.3,571.2 L501.2,570.2 L504.3,569.1 L507.5,567.4 L511.4,564.7 L516.9,560.1 L519.2,558.3 L521.6,557.1 L523.1,556.8 L524.7,556.9 L525.5,557.1 L527.1,557.9 L529.4,559.5 L534.9,564 L538,566.3 L542,568.6 L545.9,570.1 L549.8,571 L555.3,571.7 L562.3,572.2 L573.3,572.5" fill="none" stroke="#5ab4c2" stroke-width="0.7"/>
<path d="M468.3,572.9 L487.1,572.5 L498.8,571.8 L503.6,571.4 L507.5,570.9 L510.6,570.3 L513.7,569.5 L516.9,568.5 L519.2,567.6 L522.4,566 L524.7,564.6 L529.4,561.3 L537.3,555 L540.4,552.8 L542,552 L543.5,551.5 L545.9,551.2 L547.4,551.4 L549,551.8 L550.6,552.6 L552.1,553.5 L554.5,555.2 L563.1,562.1 L567.8,565.2 L570.2,566.4 L572.5,567.5 L577.2,569.2 L580.4,569.9 L583.5,570.5 L587.4,571 L592.1,571.4 L603.9,571.9 L622.7,572.3" fill="none" stroke="#6670a0" stroke-width="0.7"/>
<path d="M365.6,574.3 L678.4,572.9" fill="none" stroke="#5ab4c2" stroke-width="1.0"/>
<path d="M365.6,573 L367.2,573.5 L370.3,573.5 L371.9,573.2 L375,573.6 L376.6,573.1 L377.4,573 L378.9,573.4 L381.3,573.1 L387.5,573.4 L391.5,572.9 L394.6,573.2 L396.2,572.6 L400.9,573 L401.6,572.8 L404,572.6 L405.6,572.9 L406.4,572.7 L407.9,573.2 L409.5,572.4 L414.2,572.7 L415.8,572.4 L418.1,572.8 L420.5,572.6 L422,572.8 L425.2,572.4 L427.5,572.4 L429.1,572.6 L430.7,572.4 L432.2,572.5 L433,572.2 L433.8,572.2 L438.5,572.2 L443.2,571.7 L444.8,572.2 L445.5,572.2 L447.1,571.7 L448.7,571.5 L450.2,571.6 L454.2,571 L456.5,571.1 L457.3,571 L458.1,570.6 L460.4,570.2 L462,570.1 L463.6,569.7 L465.1,569.6 L465.9,569.3 L466.7,569.3 L467.5,569.4 L468.3,569.2 L469.1,568.5 L473,567.3 L475.3,565.5 L476.9,565.3 L478.5,563.9 L480,563 L484,559.2 L494.9,544.9 L498.8,542 L501.2,541.9 L502.8,541.5 L506.7,543.4 L508.3,543.2 L509,543.4 L510.6,544 L513.7,544.1 L516.9,543 L517.7,542.8 L519.2,543 L520,542.9 L521.6,542.1 L524.7,542 L525.5,542.2 L527.1,542.2 L528.6,542.9 L529.4,543 L531.8,544.2 L533.3,544 L534.9,544.3 L536.5,544.1 L538.8,544.9 L541.2,544.6 L545.9,545.6 L546.7,546.1 L549.8,547.5 L552.1,549.7 L553.7,550.7 L555.3,552.7 L559.2,556 L563.1,559.8 L564.7,560.7 L570.2,564.8 L571.7,565.2 L574.1,566.6 L576.4,567.5 L577.2,567.7 L578,567.6 L579.6,568.3 L585.9,569.6 L587.4,570.2 L589,570 L591.3,570.7 L592.9,570.5 L594.5,570.8 L596.8,570.2 L598.4,570.9 L599.2,570.7 L600,570.7 L601.5,571.2 L603.1,570.9 L604.7,571.1 L605.5,571 L607,571.6 L607.8,571.6 L609.4,570.9 L610.9,571.3 L611.7,571.3 L613.3,571.8 L614.9,571.3 L618.8,571.6 L620.3,571.4 L623.5,571.8 L625,571.5 L626.6,572.1 L630.5,571.5 L632.1,571.8 L635.2,571.7 L636.8,571.9 L639.2,571.5 L641.5,572.2 L643.9,571.6 L644.6,571.8 L646.2,571.7 L647.8,572 L649.3,571.7 L650.9,571.8 L651.7,572 L653.3,571.8 L654.8,572.1 L658.8,571.9 L659.5,571.7 L661.1,572 L665,571.6 L667.4,572 L668.9,571.7 L671.3,572.1 L673.6,571.8 L675.2,572.1 L677.6,571.7 L678.4,572.1" fill="none" stroke="#555" stroke-width="0.6" stroke-linejoin="round"/>
<path d="M365.6,573.3 L409.5,572.8 L437.7,572 L447.9,571.5 L455.7,571 L462,570.2 L466.7,569.4 L470.6,568.2 L473.8,567 L476.9,565.2 L479.3,563.5 L481.6,561.4 L484.7,558.1 L487.1,555.2 L492.6,547.9 L494.1,546 L495.7,544.4 L497.3,543.1 L498.1,542.6 L499.6,542 L501.2,541.8 L503.6,542.1 L509,543.6 L512.2,544 L515.3,543.7 L521.6,542.2 L523.1,542 L524.7,542 L527.1,542.4 L531.8,543.7 L534.1,544.2 L536.5,544.4 L542,544.7 L543.5,545 L545.1,545.4 L547.4,546.4 L550.6,548.4 L553.7,551.1 L562.3,559.1 L565.5,561.6 L568.6,563.7 L571.7,565.5 L575.7,567.2 L579.6,568.4 L584.3,569.4 L589,570.1 L595.3,570.6 L603.1,571 L612.5,571.3 L639.2,571.8 L678.4,571.9" fill="none" stroke="#e26a63" stroke-width="0.8"/>
<rect x="369.5" y="323.5" width="309" height="257" fill="none" stroke="#303030" stroke-width="1"/>
<line x1="369.8" y1="580.5" x2="369.8" y2="585" stroke="#303030" stroke-width="1"/>
<line x1="397.85" y1="580.5" x2="397.85" y2="583" stroke="#303030" stroke-width="1"/>
<line x1="425.9" y1="580.5" x2="425.9" y2="585" stroke="#303030" stroke-width="1"/>
<line x1="453.95" y1="580.5" x2="453.95" y2="583" stroke="#303030" stroke-width="1"/>
<line x1="482" y1="580.5" x2="482" y2="585" stroke="#303030" stroke-width="1"/>
<line x1="510.05" y1="580.5" x2="510.05" y2="583" stroke="#303030" stroke-width="1"/>
<line x1="538.1" y1="580.5" x2="538.1" y2="585" stroke="#303030" stroke-width="1"/>
<line x1="566.15" y1="580.5" x2="566.15" y2="583" stroke="#303030" stroke-width="1"/>
<line x1="594.2" y1="580.5" x2="594.2" y2="585" stroke="#303030" stroke-width="1"/>
<line x1="622.25" y1="580.5" x2="622.25" y2="583" stroke="#303030" stroke-width="1"/>
<line x1="650.3" y1="580.5" x2="650.3" y2="585" stroke="#303030" stroke-width="1"/>
<line x1="678.35" y1="580.5" x2="678.35" y2="583" stroke="#303030" stroke-width="1"/>
<text x="16.38" y="30.23" font-size="26.82" textLength="13.53" lengthAdjust="spacingAndGlyphs" fill="#1c1c1c" style="white-space:pre">a</text>
<text x="375.6" y="26.14" font-size="26.39" textLength="16.23" lengthAdjust="spacingAndGlyphs" fill="#1c1c1c" style="white-space:pre">b</text>
<text x="15.55" y="345.53" font-size="27.37" textLength="14.24" lengthAdjust="spacingAndGlyphs" fill="#1c1c1c" style="white-space:pre">c</text>
<text x="378.25" y="348.03" font-size="26.53" textLength="15.2" lengthAdjust="spacingAndGlyphs" fill="#1c1c1c" style="white-space:pre">d</text>
<text x="69.35" y="28" font-size="11.88" textLength="29.93" lengthAdjust="spacingAndGlyphs" fill="#1c1c1c" style="white-space:pre">31.30</text>
<text x="117.35" y="32.7" font-size="10.72" textLength="29.37" lengthAdjust="spacingAndGlyphs" fill="#1c1c1c" style="white-space:pre">33.43</text>
<text x="159.73" y="20.8" font-size="15.3" textLength="41.25" lengthAdjust="spacingAndGlyphs" fill="#1c1c1c" style="white-space:pre">W-B 4f</text>
<text x="201.45" y="25.9" font-size="9" textLength="12.19" lengthAdjust="spacingAndGlyphs" fill="#1c1c1c" style="white-space:pre">5/2</text>
<text x="163.75" y="53.4" font-size="11.88" textLength="29.34" lengthAdjust="spacingAndGlyphs" fill="#1c1c1c" style="white-space:pre">35.37</text>
<text x="213.65" y="53.4" font-size="11.88" textLength="29.34" lengthAdjust="spacingAndGlyphs" fill="#1c1c1c" style="white-space:pre">37.45</text>
<text x="220.6" y="15.8" font-size="11.6" textLength="87.98" lengthAdjust="spacingAndGlyphs" fill="#1c1c1c" style="white-space:pre">etching  100  nm</text>
<text x="230.6" y="81.9" font-size="11.6" textLength="78.49" lengthAdjust="spacingAndGlyphs" fill="#1c1c1c" style="white-space:pre">etching  10 nm</text>
<text x="72.84" y="108.3" font-size="11.59" textLength="30.61" lengthAdjust="spacingAndGlyphs" fill="#1c1c1c" style="white-space:pre">31.43</text>
<text x="120.24" y="103" font-size="11.59" textLength="30.23" lengthAdjust="spacingAndGlyphs" fill="#1c1c1c" style="white-space:pre">33.49</text>
<text x="165.24" y="103" font-size="11.59" textLength="30.27" lengthAdjust="spacingAndGlyphs" fill="#1c1c1c" style="white-space:pre">35.42</text>
<text x="215.34" y="108.4" font-size="11.88" textLength="30.01" lengthAdjust="spacingAndGlyphs" fill="#1c1c1c" style="white-space:pre">37.44</text>
<text x="96.13" y="145.5" font-size="15.3" textLength="41.85" lengthAdjust="spacingAndGlyphs" fill="#1c1c1c" style="white-space:pre">W-B 4f</text>
<text x="138.87" y="150.6" font-size="9" textLength="11.65" lengthAdjust="spacingAndGlyphs" fill="#1c1c1c" style="white-space:pre">7/2</text>
<text x="240.5" y="142.4" font-size="11.6" textLength="68.28" lengthAdjust="spacingAndGlyphs" fill="#1c1c1c" style="white-space:pre">etching 5 nm</text>
<text x="72.24" y="172.6" font-size="11.16" textLength="30.06" lengthAdjust="spacingAndGlyphs" fill="#1c1c1c" style="white-space:pre">31.62</text>
<text x="120.24" y="168.3" font-size="11.74" textLength="30.27" lengthAdjust="spacingAndGlyphs" fill="#1c1c1c" style="white-space:pre">33.55</text>
<text x="162.46" y="159.3" font-size="11.16" textLength="29.12" lengthAdjust="spacingAndGlyphs" fill="#1c1c1c" style="white-space:pre">35.41</text>
<text x="212.84" y="166.7" font-size="11.16" textLength="30.06" lengthAdjust="spacingAndGlyphs" fill="#1c1c1c" style="white-space:pre">37.47</text>
<text x="241.51" y="199.2" font-size="11.6" textLength="67.01" lengthAdjust="spacingAndGlyphs" fill="#1c1c1c" style="white-space:pre">worn surface</text>
<text x="130.53" y="201.7" font-size="15.3" textLength="42.45" lengthAdjust="spacingAndGlyphs" fill="#1c1c1c" style="white-space:pre">W-O 4f</text>
<text x="174.36" y="206.8" font-size="9" textLength="11.86" lengthAdjust="spacingAndGlyphs" fill="#1c1c1c" style="white-space:pre">7/2</text>
<text x="241.63" y="220" font-size="15.3" textLength="43.35" lengthAdjust="spacingAndGlyphs" fill="#1c1c1c" style="white-space:pre">W-O 4f</text>
<text x="285.67" y="224.9" font-size="9" textLength="11.44" lengthAdjust="spacingAndGlyphs" fill="#1c1c1c" style="white-space:pre">5/2</text>
<text x="167.74" y="223" font-size="12.46" textLength="30.01" lengthAdjust="spacingAndGlyphs" fill="#1c1c1c" style="white-space:pre">35.74</text>
<text x="215.36" y="230.3" font-size="12.61" textLength="29.2" lengthAdjust="spacingAndGlyphs" fill="#1c1c1c" style="white-space:pre">37.90</text>
<text x="13.51" y="238.3" font-size="18" textLength="36.06" lengthAdjust="spacingAndGlyphs" fill="#1c1c1c" style="white-space:pre">W 4f</text>
<text x="2.07" y="275.8" font-size="12.46" textLength="13.97" lengthAdjust="spacingAndGlyphs" fill="#1c1c1c" style="white-space:pre">28</text>
<text x="45.82" y="275.8" font-size="12.46" textLength="13.97" lengthAdjust="spacingAndGlyphs" fill="#1c1c1c" style="white-space:pre">30</text>
<text x="89.59" y="275.8" font-size="12.46" textLength="13.97" lengthAdjust="spacingAndGlyphs" fill="#1c1c1c" style="white-space:pre">32</text>
<text x="133.16" y="275.8" font-size="12.46" textLength="13.97" lengthAdjust="spacingAndGlyphs" fill="#1c1c1c" style="white-space:pre">34</text>
<text x="176.95" y="275.8" font-size="12.46" textLength="13.97" lengthAdjust="spacingAndGlyphs" fill="#1c1c1c" style="white-space:pre">36</text>
<text x="220.65" y="275.8" font-size="12.46" textLength="13.97" lengthAdjust="spacingAndGlyphs" fill="#1c1c1c" style="white-space:pre">38</text>
<text x="264.42" y="275.8" font-size="12.46" textLength="13.97" lengthAdjust="spacingAndGlyphs" fill="#1c1c1c" style="white-space:pre">40</text>
<text x="308.19" y="275.8" font-size="12.46" textLength="13.97" lengthAdjust="spacingAndGlyphs" fill="#1c1c1c" style="white-space:pre">42</text>
<text x="131.83" y="296.3" font-size="15" textLength="58.32" lengthAdjust="spacingAndGlyphs" fill="#1c1c1c" style="white-space:pre">B.E.(eV)</text>
<line x1="165" y1="24.9" x2="150" y2="34.69" stroke="#3aa57f" stroke-width="1.6"/>
<path d="M145.4,37.7 L148.87,31.13 L149.59,34.97 L152.81,37.16 Z" fill="#3aa57f"/>
<line x1="194.5" y1="28.9" x2="205.89" y2="40.74" stroke="#3aa57f" stroke-width="1.6"/>
<path d="M209.7,44.7 L202.6,42.51 L206.23,41.1 L207.79,37.52 Z" fill="#3aa57f"/>
<line x1="103.8" y1="148.5" x2="94.02" y2="157.64" stroke="#3aa57f" stroke-width="1.6"/>
<path d="M90,161.4 L92.29,154.33 L93.65,157.99 L97.21,159.59 Z" fill="#3aa57f"/>
<line x1="151.4" y1="138.3" x2="164.54" y2="146.57" stroke="#3aa57f" stroke-width="1.6"/>
<path d="M169.2,149.5 L161.78,149.09 L164.97,146.84 L165.62,142.99 Z" fill="#3aa57f"/>
<text x="448.51" y="24.1" font-size="11.88" textLength="35.84" lengthAdjust="spacingAndGlyphs" fill="#1c1c1c" style="white-space:pre">187.84</text>
<text x="582.6" y="15.7" font-size="11.6" textLength="83.87" lengthAdjust="spacingAndGlyphs" fill="#1c1c1c" style="white-space:pre">etching 100  nm</text>
<text x="554.88" y="35.6" font-size="14.6" textLength="77.65" lengthAdjust="spacingAndGlyphs" fill="#1c1c1c" style="white-space:pre">B-B/B-W 1s</text>
<line x1="546" y1="35.6" x2="524.71" y2="42.83" stroke="#2f4a90" stroke-width="1.6"/>
<path d="M519.5,44.6 L524.5,39.1 L524.23,42.99 L526.81,45.92 Z" fill="#2f4a90"/>
<text x="450.4" y="91.7" font-size="11.88" textLength="36.22" lengthAdjust="spacingAndGlyphs" fill="#1c1c1c" style="white-space:pre">187.78</text>
<text x="592.51" y="86.9" font-size="11.6" textLength="73.97" lengthAdjust="spacingAndGlyphs" fill="#1c1c1c" style="white-space:pre">etching 10 nm</text>
<text x="446.71" y="160.4" font-size="11.88" textLength="35.99" lengthAdjust="spacingAndGlyphs" fill="#1c1c1c" style="white-space:pre">187.82</text>
<text x="599.01" y="139.8" font-size="11.6" textLength="67.47" lengthAdjust="spacingAndGlyphs" fill="#1c1c1c" style="white-space:pre">etching 5 nm</text>
<text x="599.41" y="204.8" font-size="11.6" textLength="66.61" lengthAdjust="spacingAndGlyphs" fill="#1c1c1c" style="white-space:pre">worn surface</text>
<text x="540.68" y="211.1" font-size="15" textLength="46.25" lengthAdjust="spacingAndGlyphs" fill="#1c1c1c" style="white-space:pre">B-O 1s</text>
<line x1="541" y1="211.6" x2="529.02" y2="215.57" stroke="#3aa57f" stroke-width="1.6"/>
<path d="M523.8,217.3 L528.84,211.84 L528.55,215.73 L531.1,218.67 Z" fill="#3aa57f"/>
<line x1="563.5" y1="215.1" x2="574.22" y2="221.71" stroke="#e0702a" stroke-width="1.6"/>
<path d="M578.9,224.6 L571.48,224.25 L574.64,221.97 L575.26,218.12 Z" fill="#e0702a"/>
<text x="488.71" y="224.4" font-size="11.88" textLength="36.01" lengthAdjust="spacingAndGlyphs" fill="#1c1c1c" style="white-space:pre">188.88</text>
<text x="578.2" y="238.1" font-size="12.32" textLength="36.32" lengthAdjust="spacingAndGlyphs" fill="#1c1c1c" style="white-space:pre">190.68</text>
<text x="376.73" y="230.9" font-size="18" textLength="35.92" lengthAdjust="spacingAndGlyphs" fill="#1c1c1c" style="white-space:pre">B 1s</text>
<text x="360.94" y="273.8" font-size="12.03" textLength="18.79" lengthAdjust="spacingAndGlyphs" fill="#1c1c1c" style="white-space:pre">184</text>
<text x="421.44" y="273.8" font-size="12.03" textLength="18.97" lengthAdjust="spacingAndGlyphs" fill="#1c1c1c" style="white-space:pre">186</text>
<text x="481.94" y="273.8" font-size="12.03" textLength="18.96" lengthAdjust="spacingAndGlyphs" fill="#1c1c1c" style="white-space:pre">188</text>
<text x="542.44" y="273.8" font-size="12.03" textLength="18.91" lengthAdjust="spacingAndGlyphs" fill="#1c1c1c" style="white-space:pre">190</text>
<text x="602.93" y="273.8" font-size="12.03" textLength="19.04" lengthAdjust="spacingAndGlyphs" fill="#1c1c1c" style="white-space:pre">192</text>
<text x="663.44" y="273.8" font-size="12.03" textLength="18.79" lengthAdjust="spacingAndGlyphs" fill="#1c1c1c" style="white-space:pre">194</text>
<text x="492.05" y="295.4" font-size="14.5" textLength="57.49" lengthAdjust="spacingAndGlyphs" fill="#1c1c1c" style="white-space:pre">B.E (eV)</text>
<text x="223.5" y="338.6" font-size="11.6" textLength="85.29" lengthAdjust="spacingAndGlyphs" fill="#1c1c1c" style="white-space:pre">etching 100  nm</text>
<text x="233.9" y="405.6" font-size="11.6" textLength="74.88" lengthAdjust="spacingAndGlyphs" fill="#1c1c1c" style="white-space:pre">etching 10 nm</text>
<text x="240.1" y="465.8" font-size="11.6" textLength="68.69" lengthAdjust="spacingAndGlyphs" fill="#1c1c1c" style="white-space:pre">etching 5 nm</text>
<text x="100.22" y="491.1" font-size="14.8" textLength="31.33" lengthAdjust="spacingAndGlyphs" fill="#1c1c1c" style="white-space:pre">C 1s</text>
<text x="95.18" y="524.5" font-size="11.59" textLength="38.01" lengthAdjust="spacingAndGlyphs" fill="#1c1c1c" style="white-space:pre">284.79</text>
<text x="164.43" y="525.5" font-size="14.5" textLength="50.82" lengthAdjust="spacingAndGlyphs" fill="#1c1c1c" style="white-space:pre">C=C 1s</text>
<line x1="177.5" y1="530.7" x2="165.55" y2="539.94" stroke="#d8392b" stroke-width="1.6"/>
<path d="M161.2,543.3 L164.14,536.48 L165.16,540.24 L168.54,542.17 Z" fill="#d8392b"/>
<text x="240.91" y="526.6" font-size="11.6" textLength="67.92" lengthAdjust="spacingAndGlyphs" fill="#1c1c1c" style="white-space:pre">worn surface</text>
<text x="142.2" y="555.6" font-size="12.17" textLength="36.46" lengthAdjust="spacingAndGlyphs" fill="#1c1c1c" style="white-space:pre">286.29</text>
<text x="251.83" y="545.4" font-size="14.5" textLength="51.72" lengthAdjust="spacingAndGlyphs" fill="#1c1c1c" style="white-space:pre">C=O 1s</text>
<line x1="247.9" y1="543.9" x2="232.62" y2="548.97" stroke="#2f4a90" stroke-width="1.6"/>
<path d="M227.4,550.7 L232.44,545.24 L232.15,549.13 L234.7,552.07 Z" fill="#2f4a90"/>
<text x="183.49" y="557.2" font-size="11.88" textLength="37.29" lengthAdjust="spacingAndGlyphs" fill="#1c1c1c" style="white-space:pre">288.70</text>
<text x="15.87" y="556.3" font-size="18" textLength="37.38" lengthAdjust="spacingAndGlyphs" fill="#1c1c1c" style="white-space:pre">C 1s</text>
<text x="-0.3" y="597.7" font-size="12.17" textLength="20.08" lengthAdjust="spacingAndGlyphs" fill="#1c1c1c" style="white-space:pre">280</text>
<text x="40.71" y="597.7" font-size="12.17" textLength="20.22" lengthAdjust="spacingAndGlyphs" fill="#1c1c1c" style="white-space:pre">282</text>
<text x="81.74" y="597.7" font-size="12.17" textLength="19.95" lengthAdjust="spacingAndGlyphs" fill="#1c1c1c" style="white-space:pre">284</text>
<text x="122.76" y="597.7" font-size="12.17" textLength="20.14" lengthAdjust="spacingAndGlyphs" fill="#1c1c1c" style="white-space:pre">286</text>
<text x="163.78" y="597.7" font-size="12.17" textLength="20.13" lengthAdjust="spacingAndGlyphs" fill="#1c1c1c" style="white-space:pre">288</text>
<text x="204.8" y="597.7" font-size="12.17" textLength="20.08" lengthAdjust="spacingAndGlyphs" fill="#1c1c1c" style="white-space:pre">290</text>
<text x="245.81" y="597.7" font-size="12.17" textLength="20.22" lengthAdjust="spacingAndGlyphs" fill="#1c1c1c" style="white-space:pre">292</text>
<text x="286.84" y="597.7" font-size="12.17" textLength="19.95" lengthAdjust="spacingAndGlyphs" fill="#1c1c1c" style="white-space:pre">294</text>
<text x="134.26" y="617.7" font-size="14.5" textLength="57.28" lengthAdjust="spacingAndGlyphs" fill="#1c1c1c" style="white-space:pre">B.E (eV)</text>
<text x="440.47" y="350.4" font-size="14" textLength="12.07" lengthAdjust="spacingAndGlyphs" fill="#1c1c1c" style="white-space:pre">O</text>
<text x="451.6" y="355" font-size="9.5" textLength="23.4" lengthAdjust="spacingAndGlyphs" fill="#1c1c1c" style="white-space:pre">lattice</text>
<text x="481.42" y="350.4" font-size="14" textLength="16.45" lengthAdjust="spacingAndGlyphs" fill="#1c1c1c" style="white-space:pre">1s</text>
<text x="580.89" y="338.1" font-size="11.6" textLength="85.6" lengthAdjust="spacingAndGlyphs" fill="#1c1c1c" style="white-space:pre">etching 100  nm</text>
<text x="532.45" y="357.3" font-size="14" textLength="12.41" lengthAdjust="spacingAndGlyphs" fill="#1c1c1c" style="white-space:pre">O</text>
<text x="544.43" y="361.4" font-size="9.5" textLength="36.84" lengthAdjust="spacingAndGlyphs" fill="#1c1c1c" style="white-space:pre">adsorbed</text>
<text x="585.03" y="357.3" font-size="14" textLength="16.22" lengthAdjust="spacingAndGlyphs" fill="#1c1c1c" style="white-space:pre">1s</text>
<text x="475.12" y="369.8" font-size="11.88" textLength="36.7" lengthAdjust="spacingAndGlyphs" fill="#1c1c1c" style="white-space:pre">530.58</text>
<text x="543.61" y="378.3" font-size="12.32" textLength="37.19" lengthAdjust="spacingAndGlyphs" fill="#1c1c1c" style="white-space:pre">531.91</text>
<text x="483.33" y="409.9" font-size="11.88" textLength="36" lengthAdjust="spacingAndGlyphs" fill="#1c1c1c" style="white-space:pre">530.56</text>
<text x="590.49" y="421.3" font-size="11.6" textLength="76" lengthAdjust="spacingAndGlyphs" fill="#1c1c1c" style="white-space:pre">etching 10 nm</text>
<text x="542.91" y="437" font-size="12.32" textLength="37.2" lengthAdjust="spacingAndGlyphs" fill="#1c1c1c" style="white-space:pre">531.82</text>
<text x="484.03" y="465.2" font-size="11.59" textLength="36.07" lengthAdjust="spacingAndGlyphs" fill="#1c1c1c" style="white-space:pre">530.57</text>
<text x="597.09" y="474.8" font-size="11.6" textLength="69.4" lengthAdjust="spacingAndGlyphs" fill="#1c1c1c" style="white-space:pre">etching 5 nm</text>
<text x="535.91" y="490.5" font-size="11.88" textLength="37.1" lengthAdjust="spacingAndGlyphs" fill="#1c1c1c" style="white-space:pre">531.85</text>
<text x="563.06" y="528" font-size="14.5" textLength="46.87" lengthAdjust="spacingAndGlyphs" fill="#1c1c1c" style="white-space:pre">B-O 1s</text>
<line x1="591.8" y1="528.8" x2="587" y2="535.2" stroke="#2f4a90" stroke-width="1.3"/>
<path d="M584.3,538.8 L585.2,532.6 L586.7,535.6 L590,536.2 Z" fill="#2f4a90"/>
<text x="418.93" y="534.9" font-size="14.5" textLength="54.42" lengthAdjust="spacingAndGlyphs" fill="#1c1c1c" style="white-space:pre">W-O  1s</text>
<text x="603.41" y="534.2" font-size="11.6" textLength="68.02" lengthAdjust="spacingAndGlyphs" fill="#1c1c1c" style="white-space:pre">worn surface</text>
<text x="475.12" y="542.8" font-size="11.59" textLength="36.72" lengthAdjust="spacingAndGlyphs" fill="#1c1c1c" style="white-space:pre">530.36</text>
<text x="520.62" y="540.1" font-size="12.03" textLength="36.65" lengthAdjust="spacingAndGlyphs" fill="#1c1c1c" style="white-space:pre">531.69</text>
<text x="554.31" y="550.4" font-size="12.17" textLength="37.23" lengthAdjust="spacingAndGlyphs" fill="#1c1c1c" style="white-space:pre">532.43</text>
<text x="377.36" y="558.7" font-size="17.5" textLength="37.68" lengthAdjust="spacingAndGlyphs" fill="#1c1c1c" style="white-space:pre">O 1s</text>
<text x="360.02" y="597.7" font-size="12.32" textLength="20.22" lengthAdjust="spacingAndGlyphs" fill="#1c1c1c" style="white-space:pre">526</text>
<text x="416.12" y="597.7" font-size="12.32" textLength="20.21" lengthAdjust="spacingAndGlyphs" fill="#1c1c1c" style="white-space:pre">528</text>
<text x="472.22" y="597.7" font-size="12.32" textLength="20.16" lengthAdjust="spacingAndGlyphs" fill="#1c1c1c" style="white-space:pre">530</text>
<text x="528.31" y="597.7" font-size="12.32" textLength="20.3" lengthAdjust="spacingAndGlyphs" fill="#1c1c1c" style="white-space:pre">532</text>
<text x="584.42" y="597.7" font-size="12.32" textLength="20.03" lengthAdjust="spacingAndGlyphs" fill="#1c1c1c" style="white-space:pre">534</text>
<text x="640.52" y="597.7" font-size="12.32" textLength="20.22" lengthAdjust="spacingAndGlyphs" fill="#1c1c1c" style="white-space:pre">536</text>
<text x="494.25" y="617.7" font-size="14.5" textLength="57.8" lengthAdjust="spacingAndGlyphs" fill="#1c1c1c" style="white-space:pre">B.E.(eV)</text>
</svg></body></html>
